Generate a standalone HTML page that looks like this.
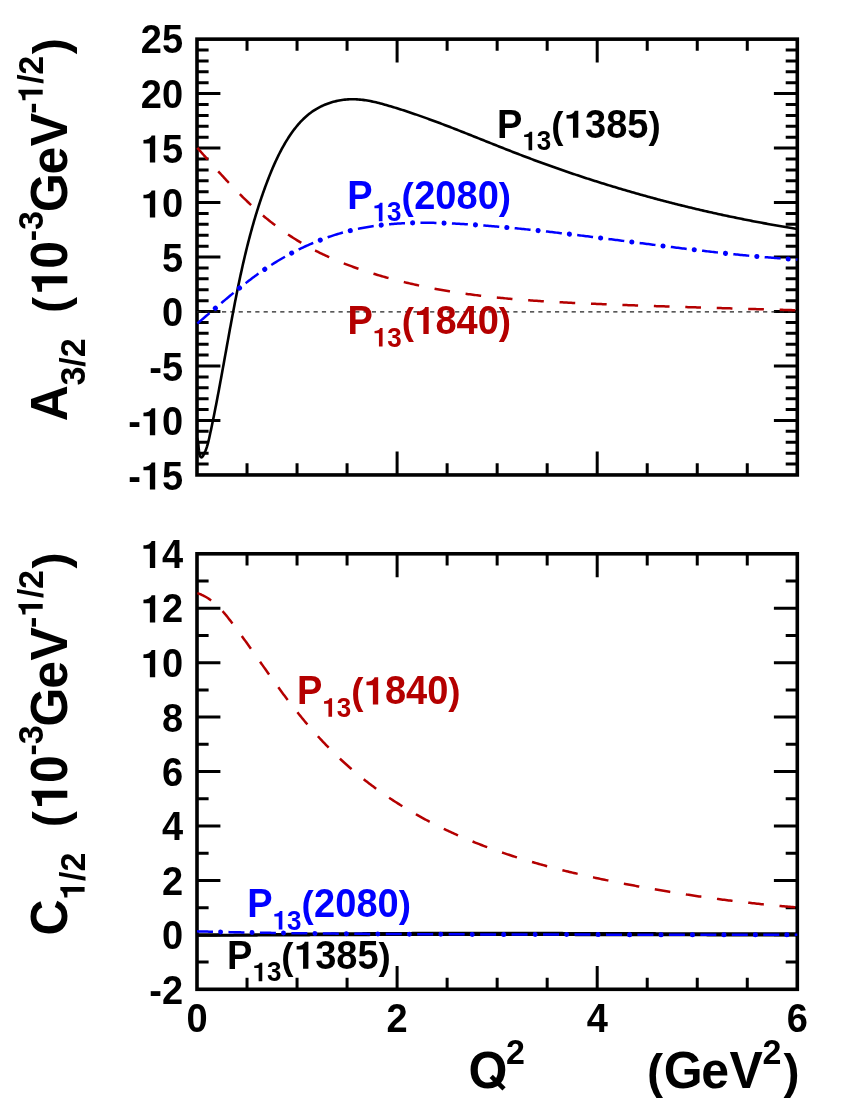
<!DOCTYPE html>
<html><head><meta charset="utf-8"><title>chart</title>
<style>html,body{margin:0;padding:0;background:#fff}svg{display:block;will-change:transform}text{font-family:"Liberation Sans",sans-serif;font-weight:bold;white-space:pre}</style>
</head><body>
<svg width="850" height="1100" viewBox="0 0 850 1100">
<rect width="850" height="1100" fill="#fff"/>
<g fill="none" stroke="#000" stroke-width="3.0">
<path d="M247.03 474.95 v-11.6 M247.03 39.15 v11.6" />
<path d="M297.05 474.95 v-11.6 M297.05 39.15 v11.6" />
<path d="M347.07 474.95 v-11.6 M347.07 39.15 v11.6" />
<path d="M397.10 474.95 v-23.4 M397.10 39.15 v23.4" />
<path d="M447.12 474.95 v-11.6 M447.12 39.15 v11.6" />
<path d="M497.15 474.95 v-11.6 M497.15 39.15 v11.6" />
<path d="M547.17 474.95 v-11.6 M547.17 39.15 v11.6" />
<path d="M597.20 474.95 v-23.4 M597.20 39.15 v23.4" />
<path d="M647.22 474.95 v-11.6 M647.22 39.15 v11.6" />
<path d="M697.25 474.95 v-11.6 M697.25 39.15 v11.6" />
<path d="M747.27 474.95 v-11.6 M747.27 39.15 v11.6" />
<path d="M197.0 93.62 h23.4 M797.3 93.62 h-23.4" />
<path d="M197.0 148.10 h23.4 M797.3 148.10 h-23.4" />
<path d="M197.0 202.58 h23.4 M797.3 202.58 h-23.4" />
<path d="M197.0 257.05 h23.4 M797.3 257.05 h-23.4" />
<path d="M197.0 311.52 h23.4 M797.3 311.52 h-23.4" />
<path d="M197.0 366.00 h23.4 M797.3 366.00 h-23.4" />
<path d="M197.0 420.47 h23.4 M797.3 420.47 h-23.4" />
<path d="M197.0 464.06 h11.6 M797.3 464.06 h-11.6" />
<path d="M197.0 453.16 h11.6 M797.3 453.16 h-11.6" />
<path d="M197.0 442.26 h11.6 M797.3 442.26 h-11.6" />
<path d="M197.0 431.37 h11.6 M797.3 431.37 h-11.6" />
<path d="M197.0 409.58 h11.6 M797.3 409.58 h-11.6" />
<path d="M197.0 398.68 h11.6 M797.3 398.68 h-11.6" />
<path d="M197.0 387.79 h11.6 M797.3 387.79 h-11.6" />
<path d="M197.0 376.89 h11.6 M797.3 376.89 h-11.6" />
<path d="M197.0 355.11 h11.6 M797.3 355.11 h-11.6" />
<path d="M197.0 344.21 h11.6 M797.3 344.21 h-11.6" />
<path d="M197.0 333.31 h11.6 M797.3 333.31 h-11.6" />
<path d="M197.0 322.42 h11.6 M797.3 322.42 h-11.6" />
<path d="M197.0 300.63 h11.6 M797.3 300.63 h-11.6" />
<path d="M197.0 289.73 h11.6 M797.3 289.73 h-11.6" />
<path d="M197.0 278.84 h11.6 M797.3 278.84 h-11.6" />
<path d="M197.0 267.94 h11.6 M797.3 267.94 h-11.6" />
<path d="M197.0 246.16 h11.6 M797.3 246.16 h-11.6" />
<path d="M197.0 235.26 h11.6 M797.3 235.26 h-11.6" />
<path d="M197.0 224.37 h11.6 M797.3 224.37 h-11.6" />
<path d="M197.0 213.47 h11.6 M797.3 213.47 h-11.6" />
<path d="M197.0 191.68 h11.6 M797.3 191.68 h-11.6" />
<path d="M197.0 180.79 h11.6 M797.3 180.79 h-11.6" />
<path d="M197.0 169.89 h11.6 M797.3 169.89 h-11.6" />
<path d="M197.0 159.00 h11.6 M797.3 159.00 h-11.6" />
<path d="M197.0 137.21 h11.6 M797.3 137.21 h-11.6" />
<path d="M197.0 126.31 h11.6 M797.3 126.31 h-11.6" />
<path d="M197.0 115.41 h11.6 M797.3 115.41 h-11.6" />
<path d="M197.0 104.52 h11.6 M797.3 104.52 h-11.6" />
<path d="M197.0 82.73 h11.6 M797.3 82.73 h-11.6" />
<path d="M197.0 71.84 h11.6 M797.3 71.84 h-11.6" />
<path d="M197.0 60.94 h11.6 M797.3 60.94 h-11.6" />
<path d="M197.0 50.05 h11.6 M797.3 50.05 h-11.6" />
<path d="M247.03 989.3 v-11.6 M247.03 553.8 v11.6" />
<path d="M297.05 989.3 v-11.6 M297.05 553.8 v11.6" />
<path d="M347.07 989.3 v-11.6 M347.07 553.8 v11.6" />
<path d="M397.10 989.3 v-23.4 M397.10 553.8 v23.4" />
<path d="M447.12 989.3 v-11.6 M447.12 553.8 v11.6" />
<path d="M497.15 989.3 v-11.6 M497.15 553.8 v11.6" />
<path d="M547.17 989.3 v-11.6 M547.17 553.8 v11.6" />
<path d="M597.20 989.3 v-23.4 M597.20 553.8 v23.4" />
<path d="M647.22 989.3 v-11.6 M647.22 553.8 v11.6" />
<path d="M697.25 989.3 v-11.6 M697.25 553.8 v11.6" />
<path d="M747.27 989.3 v-11.6 M747.27 553.8 v11.6" />
<path d="M197.0 608.24 h23.4 M797.3 608.24 h-23.4" />
<path d="M197.0 662.67 h23.4 M797.3 662.67 h-23.4" />
<path d="M197.0 717.11 h23.4 M797.3 717.11 h-23.4" />
<path d="M197.0 771.55 h23.4 M797.3 771.55 h-23.4" />
<path d="M197.0 825.99 h23.4 M797.3 825.99 h-23.4" />
<path d="M197.0 880.42 h23.4 M797.3 880.42 h-23.4" />
<path d="M197.0 934.86 h23.4 M797.3 934.86 h-23.4" />
<path d="M197.0 581.02 h11.6 M797.3 581.02 h-11.6" />
<path d="M197.0 635.46 h11.6 M797.3 635.46 h-11.6" />
<path d="M197.0 689.89 h11.6 M797.3 689.89 h-11.6" />
<path d="M197.0 744.33 h11.6 M797.3 744.33 h-11.6" />
<path d="M197.0 798.77 h11.6 M797.3 798.77 h-11.6" />
<path d="M197.0 853.21 h11.6 M797.3 853.21 h-11.6" />
<path d="M197.0 907.64 h11.6 M797.3 907.64 h-11.6" />
<path d="M197.0 962.08 h11.6 M797.3 962.08 h-11.6" />
</g>
<g fill="none" stroke="#000" stroke-width="3.6">
<rect x="197.0" y="39.15" width="600.3" height="435.8"/>
<rect x="197.0" y="553.8" width="600.3" height="435.5"/>
</g>
<g fill="none" stroke-linejoin="round">
<path d="M197.0 311.82 H797.3" stroke="#222" stroke-width="1.3" stroke-dasharray="4.2 4.125"/>
<path d="M197.00 438.05 L197.43 439.20 L197.77 440.51 L198.03 441.95 L198.24 443.50 L198.41 445.13 L198.57 446.81 L198.73 448.51 L198.92 450.22 L199.15 451.91 L199.44 453.55 L199.81 455.06 L200.26 456.32 L200.79 457.16 L201.39 457.46 L202.06 457.10 L202.78 456.22 L203.51 454.99 L204.22 453.58 L204.88 452.13 L205.49 450.67 L206.05 449.21 L206.57 447.75 L207.05 446.29 L207.49 444.83 L207.91 443.36 L208.29 441.90 L208.66 440.43 L209.01 438.96 L209.34 437.49 L209.66 436.02 L209.98 434.55 L210.30 433.08 L210.61 431.60 L210.93 430.13 L211.24 428.66 L211.55 427.19 L211.86 425.72 L212.16 424.25 L212.47 422.78 L212.77 421.31 L213.07 419.84 L213.37 418.37 L213.67 416.90 L213.96 415.43 L214.26 413.96 L214.55 412.49 L214.84 411.02 L215.13 409.54 L215.42 408.07 L215.71 406.60 L216.00 405.13 L216.28 403.66 L216.57 402.19 L216.85 400.72 L217.13 399.25 L217.41 397.78 L217.69 396.31 L217.97 394.84 L218.25 393.37 L218.53 391.89 L218.80 390.42 L219.08 388.95 L219.35 387.48 L219.62 386.01 L219.90 384.54 L220.17 383.07 L220.44 381.60 L220.71 380.13 L220.98 378.65 L221.25 377.18 L221.52 375.71 L221.79 374.24 L222.06 372.77 L222.32 371.30 L222.59 369.83 L222.86 368.36 L223.12 366.88 L223.39 365.41 L223.66 363.94 L223.92 362.47 L224.19 361.00 L224.45 359.53 L224.72 358.05 L224.98 356.58 L225.25 355.11 L225.51 353.64 L225.78 352.17 L226.04 350.69 L226.31 349.22 L226.57 347.75 L226.84 346.28 L227.10 344.80 L227.37 343.33 L227.63 341.86 L227.90 340.39 L228.17 338.91 L228.43 337.44 L228.70 335.97 L228.97 334.50 L229.24 333.02 L229.51 331.55 L229.77 330.08 L230.04 328.60 L230.31 327.13 L230.59 325.66 L230.86 324.18 L231.13 322.71 L231.40 321.24 L231.68 319.76 L231.95 318.29 L232.23 316.82 L232.51 315.34 L232.78 313.87 L233.06 312.39 L233.34 310.92 L233.62 309.45 L233.90 307.97 L234.19 306.50 L234.47 305.02 L234.75 303.55 L235.04 302.07 L235.33 300.60 L235.62 299.13 L235.91 297.65 L236.20 296.18 L236.49 294.70 L236.79 293.23 L237.08 291.76 L237.38 290.28 L237.68 288.81 L237.98 287.34 L238.28 285.86 L238.59 284.39 L238.90 282.92 L239.20 281.45 L239.51 279.98 L239.82 278.51 L240.14 277.04 L240.45 275.57 L240.77 274.10 L241.09 272.63 L241.41 271.16 L241.74 269.69 L242.06 268.22 L242.39 266.76 L242.72 265.29 L243.05 263.82 L243.39 262.36 L243.73 260.89 L244.07 259.43 L244.41 257.97 L244.75 256.50 L245.10 255.04 L245.45 253.58 L245.80 252.12 L246.16 250.66 L246.51 249.20 L246.87 247.74 L247.24 246.29 L247.60 244.83 L247.97 243.38 L248.34 241.92 L248.72 240.47 L249.10 239.02 L249.48 237.56 L249.86 236.11 L250.25 234.66 L250.64 233.22 L251.03 231.77 L251.43 230.32 L251.83 228.88 L252.23 227.43 L252.63 225.99 L253.04 224.55 L253.46 223.11 L253.87 221.67 L254.29 220.23 L254.71 218.79 L255.14 217.36 L255.57 215.93 L256.01 214.49 L256.44 213.06 L256.88 211.63 L257.33 210.20 L257.78 208.78 L258.23 207.35 L258.69 205.93 L259.15 204.50 L259.61 203.08 L260.08 201.66 L260.55 200.24 L261.03 198.83 L261.51 197.41 L262.00 196.00 L262.49 194.59 L262.98 193.18 L263.48 191.77 L263.98 190.36 L264.48 188.96 L265.00 187.55 L265.51 186.15 L266.03 184.75 L266.55 183.35 L267.08 181.96 L267.62 180.56 L268.15 179.17 L268.70 177.78 L269.24 176.39 L269.80 175.01 L270.35 173.62 L270.92 172.24 L271.49 170.86 L272.06 169.48 L272.64 168.11 L273.23 166.74 L273.83 165.37 L274.43 164.00 L275.04 162.64 L275.66 161.28 L276.29 159.93 L276.93 158.58 L277.57 157.23 L278.23 155.89 L278.89 154.55 L279.56 153.21 L280.25 151.88 L280.94 150.55 L281.65 149.23 L282.36 147.91 L283.09 146.60 L283.83 145.29 L284.58 143.99 L285.34 142.70 L286.12 141.40 L286.90 140.12 L287.71 138.84 L288.52 137.56 L289.35 136.30 L290.19 135.04 L291.05 133.79 L291.92 132.55 L292.81 131.32 L293.71 130.10 L294.62 128.89 L295.56 127.70 L296.51 126.52 L297.47 125.36 L298.45 124.21 L299.45 123.08 L300.47 121.97 L301.50 120.88 L302.55 119.81 L303.62 118.76 L304.71 117.72 L305.82 116.72 L306.95 115.73 L308.09 114.77 L309.26 113.84 L310.44 112.93 L311.65 112.05 L312.88 111.19 L314.12 110.37 L315.39 109.57 L316.67 108.80 L317.98 108.06 L319.30 107.35 L320.63 106.67 L321.99 106.02 L323.35 105.40 L324.73 104.81 L326.13 104.24 L327.53 103.71 L328.95 103.20 L330.38 102.73 L331.82 102.28 L333.26 101.87 L334.72 101.48 L336.18 101.13 L337.65 100.80 L339.12 100.51 L340.60 100.24 L342.08 100.01 L343.57 99.81 L345.05 99.64 L346.54 99.49 L348.03 99.38 L349.52 99.30 L351.01 99.26 L352.50 99.24 L353.98 99.25 L355.47 99.29 L356.95 99.36 L358.43 99.46 L359.91 99.58 L361.39 99.73 L362.86 99.90 L364.34 100.09 L365.81 100.31 L367.28 100.55 L368.75 100.80 L370.22 101.08 L371.68 101.37 L373.15 101.68 L374.61 102.00 L376.07 102.34 L377.53 102.70 L378.99 103.06 L380.44 103.44 L381.90 103.82 L383.35 104.22 L384.80 104.63 L386.25 105.04 L387.70 105.46 L389.15 105.88 L390.59 106.31 L392.03 106.75 L393.48 107.18 L394.92 107.62 L396.35 108.07 L397.79 108.51 L399.23 108.97 L400.66 109.42 L402.09 109.88 L403.52 110.34 L404.95 110.80 L406.38 111.27 L407.81 111.74 L409.24 112.22 L410.66 112.70 L412.08 113.18 L413.50 113.66 L414.93 114.15 L416.35 114.64 L417.76 115.13 L419.18 115.62 L420.60 116.12 L422.01 116.62 L423.43 117.12 L424.84 117.63 L426.25 118.13 L427.66 118.64 L429.07 119.16 L430.48 119.67 L431.89 120.19 L433.30 120.71 L434.70 121.23 L436.11 121.75 L437.51 122.27 L438.91 122.80 L440.32 123.33 L441.72 123.86 L443.12 124.39 L444.52 124.93 L445.92 125.46 L447.32 126.00 L448.72 126.54 L450.12 127.08 L451.52 127.62 L452.91 128.16 L454.31 128.70 L455.71 129.25 L457.10 129.80 L458.50 130.34 L459.89 130.89 L461.28 131.44 L462.68 131.99 L464.07 132.54 L465.46 133.09 L466.86 133.65 L468.25 134.20 L469.64 134.75 L471.03 135.31 L472.43 135.86 L473.82 136.42 L475.21 136.98 L476.60 137.53 L477.99 138.09 L479.38 138.64 L480.77 139.20 L482.16 139.76 L483.55 140.32 L484.94 140.87 L486.33 141.43 L487.73 141.99 L489.12 142.54 L490.51 143.10 L491.90 143.65 L493.29 144.21 L494.68 144.77 L496.07 145.32 L497.46 145.87 L498.86 146.43 L500.25 146.98 L501.64 147.53 L503.03 148.08 L504.43 148.64 L505.82 149.19 L507.21 149.73 L508.61 150.28 L510.00 150.83 L511.40 151.37 L512.79 151.92 L514.19 152.46 L515.59 153.00 L516.98 153.54 L518.38 154.08 L519.78 154.62 L521.18 155.16 L522.58 155.69 L523.98 156.22 L525.38 156.76 L526.78 157.29 L528.18 157.81 L529.59 158.34 L530.99 158.87 L532.39 159.39 L533.80 159.91 L535.20 160.43 L536.61 160.95 L538.01 161.47 L539.42 161.98 L540.83 162.50 L542.24 163.01 L543.65 163.52 L545.06 164.03 L546.47 164.54 L547.88 165.05 L549.29 165.55 L550.70 166.06 L552.11 166.56 L553.52 167.06 L554.94 167.56 L556.35 168.06 L557.77 168.55 L559.18 169.05 L560.60 169.54 L562.01 170.03 L563.43 170.52 L564.85 171.01 L566.26 171.49 L567.68 171.98 L569.10 172.46 L570.52 172.94 L571.94 173.43 L573.36 173.90 L574.78 174.38 L576.21 174.86 L577.63 175.33 L579.05 175.80 L580.47 176.27 L581.90 176.74 L583.32 177.21 L584.75 177.68 L586.17 178.14 L587.60 178.61 L589.03 179.07 L590.45 179.53 L591.88 179.99 L593.31 180.44 L594.74 180.90 L596.17 181.35 L597.60 181.81 L599.03 182.26 L600.46 182.71 L601.89 183.15 L603.32 183.60 L604.75 184.04 L606.18 184.49 L607.62 184.93 L609.05 185.37 L610.48 185.81 L611.92 186.24 L613.35 186.68 L614.79 187.11 L616.23 187.54 L617.66 187.98 L619.10 188.40 L620.54 188.83 L621.97 189.26 L623.41 189.68 L624.85 190.10 L626.29 190.53 L627.73 190.95 L629.17 191.36 L630.61 191.78 L632.05 192.19 L633.49 192.61 L634.94 193.02 L636.38 193.43 L637.82 193.84 L639.27 194.25 L640.71 194.65 L642.15 195.06 L643.60 195.46 L645.04 195.86 L646.49 196.26 L647.93 196.66 L649.38 197.05 L650.83 197.45 L652.28 197.84 L653.72 198.23 L655.17 198.62 L656.62 199.01 L658.07 199.40 L659.52 199.78 L660.97 200.16 L662.42 200.55 L663.87 200.93 L665.32 201.31 L666.77 201.68 L668.22 202.06 L669.68 202.43 L671.13 202.81 L672.58 203.18 L674.03 203.55 L675.49 203.91 L676.94 204.28 L678.40 204.65 L679.85 205.01 L681.31 205.37 L682.76 205.73 L684.22 206.09 L685.68 206.45 L687.13 206.80 L688.59 207.15 L690.05 207.51 L691.51 207.86 L692.96 208.21 L694.42 208.55 L695.88 208.90 L697.34 209.24 L698.80 209.59 L700.26 209.93 L701.72 210.27 L703.18 210.61 L704.64 210.94 L706.11 211.28 L707.57 211.61 L709.03 211.94 L710.49 212.27 L711.95 212.60 L713.42 212.93 L714.88 213.25 L716.35 213.58 L717.81 213.90 L719.27 214.22 L720.74 214.54 L722.20 214.86 L723.67 215.17 L725.14 215.49 L726.60 215.80 L728.07 216.11 L729.53 216.42 L731.00 216.73 L732.47 217.03 L733.94 217.34 L735.40 217.64 L736.87 217.94 L738.34 218.24 L739.81 218.54 L741.28 218.84 L742.75 219.13 L744.22 219.43 L745.69 219.72 L747.16 220.01 L748.63 220.30 L750.10 220.59 L751.57 220.87 L753.04 221.16 L754.51 221.44 L755.99 221.72 L757.46 222.00 L758.93 222.28 L760.40 222.55 L761.88 222.83 L763.35 223.10 L764.82 223.37 L766.30 223.64 L767.77 223.91 L769.25 224.18 L770.72 224.44 L772.20 224.71 L773.67 224.97 L775.15 225.23 L776.62 225.49 L778.10 225.75 L779.57 226.00 L781.05 226.26 L782.53 226.51 L784.00 226.76 L785.48 227.01 L786.96 227.26 L788.43 227.50 L789.91 227.75 L791.39 227.99 L792.87 228.23 L794.35 228.47 L795.82 228.71 L797.30 228.95" stroke="#000" stroke-width="2.6"/>
<path d="M197.27 147.81 L198.26 148.91 L199.24 150.02 L200.23 151.13 L201.21 152.24 L202.20 153.35 L203.19 154.46 L204.17 155.57 L205.16 156.68 L206.15 157.80 L207.14 158.91 L208.13 160.03 L209.12 161.14 L210.12 162.26 L211.11 163.38 L212.11 164.49 L213.11 165.61 L214.11 166.72 L215.11 167.84 L216.11 168.95 L217.11 170.07 L218.12 171.18 L219.13 172.29 L220.14 173.40 L221.15 174.51 L222.16 175.62 L223.18 176.72 L224.20 177.83 L225.22 178.93 L226.24 180.03 L227.27 181.13 L228.30 182.23 L229.33 183.33 L230.36 184.42 L231.40 185.51 L232.44 186.60 L233.48 187.68 L234.52 188.76 L235.57 189.84 L236.62 190.92 L237.68 191.99 L238.73 193.06 L239.80 194.13 L240.86 195.19 L241.93 196.25 L243.00 197.30 L244.07 198.36 L245.15 199.40 L246.24 200.45 L247.32 201.48 L248.41 202.52 L249.51 203.55 L250.61 204.57 L251.71 205.59 L252.82 206.60 L253.93 207.61 L255.04 208.62 L256.16 209.62 L257.29 210.61 L258.41 211.60 L259.55 212.59 L260.68 213.56 L261.82 214.54 L262.97 215.50 L264.12 216.47 L265.27 217.42 L266.43 218.37 L267.59 219.32 L268.76 220.26 L269.93 221.19 L271.10 222.12 L272.28 223.04 L273.47 223.95 L274.65 224.86 L275.85 225.76 L277.04 226.66 L278.24 227.55 L279.45 228.43 L280.66 229.31 L281.87 230.18 L283.09 231.04 L284.31 231.90 L285.54 232.75 L286.77 233.60 L288.00 234.43 L289.24 235.26 L290.48 236.09 L291.73 236.90 L292.98 237.71 L294.24 238.51 L295.50 239.31 L296.77 240.09 L298.04 240.87 L299.31 241.65 L300.59 242.41 L301.87 243.17 L303.16 243.92 L304.45 244.66 L305.75 245.40 L307.05 246.13 L308.35 246.85 L309.66 247.56 L310.97 248.27 L312.29 248.97 L313.61 249.66 L314.93 250.35 L316.26 251.02 L317.59 251.70 L318.93 252.36 L320.26 253.02 L321.61 253.67 L322.95 254.32 L324.30 254.96 L325.65 255.59 L327.01 256.22 L328.37 256.84 L329.73 257.45 L331.10 258.06 L332.46 258.66 L333.84 259.25 L335.21 259.84 L336.59 260.42 L337.97 261.00 L339.35 261.57 L340.74 262.14 L342.13 262.69 L343.52 263.25 L344.91 263.80 L346.31 264.34 L347.71 264.87 L349.11 265.40 L350.52 265.93 L351.92 266.45 L353.33 266.96 L354.74 267.47 L356.16 267.98 L357.57 268.48 L358.99 268.97 L360.41 269.46 L361.83 269.94 L363.25 270.42 L364.68 270.89 L366.11 271.36 L367.54 271.83 L368.97 272.28 L370.40 272.74 L371.83 273.19 L373.27 273.63 L374.71 274.07 L376.15 274.51 L377.59 274.94 L379.03 275.37 L380.47 275.79 L381.92 276.21 L383.36 276.62 L384.81 277.03 L386.26 277.44 L387.70 277.84 L389.15 278.24 L390.61 278.63 L392.06 279.02 L393.51 279.41 L394.96 279.79 L396.42 280.17 L397.87 280.54 L399.33 280.91 L400.79 281.28 L402.24 281.64 L403.70 282.00 L405.16 282.36 L406.62 282.71 L408.08 283.05 L409.54 283.40 L411.01 283.74 L412.47 284.07 L413.93 284.40 L415.40 284.73 L416.86 285.05 L418.33 285.37 L419.80 285.69 L421.26 286.00 L422.73 286.31 L424.20 286.62 L425.67 286.92 L427.13 287.21 L428.60 287.51 L430.07 287.80 L431.54 288.08 L433.02 288.37 L434.49 288.65 L435.96 288.92 L437.43 289.19 L438.90 289.46 L440.38 289.73 L441.85 289.99 L443.32 290.25 L444.80 290.50 L446.27 290.75 L447.75 291.00 L449.22 291.25 L450.70 291.49 L452.18 291.72 L453.65 291.96 L455.13 292.19 L456.61 292.42 L458.09 292.65 L459.57 292.87 L461.05 293.09 L462.53 293.30 L464.00 293.52 L465.49 293.73 L466.97 293.93 L468.45 294.14 L469.93 294.34 L471.41 294.54 L472.89 294.73 L474.37 294.93 L475.86 295.12 L477.34 295.30 L478.82 295.49 L480.31 295.67 L481.79 295.85 L483.27 296.03 L484.76 296.20 L486.24 296.37 L487.73 296.54 L489.22 296.71 L490.70 296.87 L492.19 297.03 L493.67 297.19 L495.16 297.35 L496.65 297.50 L498.14 297.65 L499.62 297.80 L501.11 297.95 L502.60 298.09 L504.09 298.24 L505.58 298.38 L507.07 298.51 L508.56 298.65 L510.04 298.78 L511.53 298.92 L513.02 299.05 L514.52 299.17 L516.01 299.30 L517.50 299.42 L518.99 299.55 L520.48 299.67 L521.97 299.78 L523.46 299.90 L524.95 300.01 L526.45 300.13 L527.94 300.24 L529.43 300.35 L530.92 300.45 L532.42 300.56 L533.91 300.66 L535.40 300.77 L536.90 300.87 L538.39 300.97 L539.88 301.06 L541.38 301.16 L542.87 301.25 L544.36 301.35 L545.86 301.44 L547.35 301.53 L548.85 301.62 L550.34 301.71 L551.84 301.79 L553.33 301.88 L554.83 301.96 L556.32 302.05 L557.82 302.13 L559.31 302.21 L560.81 302.29 L562.31 302.37 L563.80 302.44 L565.30 302.52 L566.79 302.59 L568.29 302.67 L569.79 302.74 L571.28 302.81 L572.78 302.89 L574.27 302.96 L575.77 303.03 L577.27 303.09 L578.76 303.16 L580.26 303.23 L581.76 303.30 L583.25 303.36 L584.75 303.43 L586.25 303.49 L587.74 303.56 L589.24 303.62 L590.74 303.68 L592.24 303.75 L593.73 303.81 L595.23 303.87 L596.73 303.93 L598.22 303.99 L599.72 304.05 L601.22 304.11 L602.71 304.17 L604.21 304.23 L605.71 304.29 L607.21 304.35 L608.70 304.41 L610.20 304.46 L611.70 304.52 L613.19 304.58 L614.69 304.64 L616.19 304.69 L617.68 304.75 L619.18 304.81 L620.68 304.86 L622.17 304.92 L623.67 304.97 L625.17 305.03 L626.67 305.08 L628.16 305.14 L629.66 305.19 L631.16 305.25 L632.65 305.30 L634.15 305.35 L635.65 305.41 L637.14 305.46 L638.64 305.51 L640.14 305.56 L641.63 305.62 L643.13 305.67 L644.63 305.72 L646.12 305.77 L647.62 305.82 L649.12 305.87 L650.61 305.93 L652.11 305.98 L653.61 306.03 L655.11 306.08 L656.60 306.13 L658.10 306.18 L659.60 306.23 L661.09 306.27 L662.59 306.32 L664.09 306.37 L665.58 306.42 L667.08 306.47 L668.58 306.52 L670.07 306.57 L671.57 306.61 L673.07 306.66 L674.56 306.71 L676.06 306.76 L677.56 306.80 L679.05 306.85 L680.55 306.90 L682.05 306.94 L683.54 306.99 L685.04 307.04 L686.54 307.08 L688.03 307.13 L689.53 307.17 L691.03 307.22 L692.52 307.27 L694.02 307.31 L695.52 307.36 L697.01 307.40 L698.51 307.45 L700.01 307.49 L701.51 307.54 L703.00 307.58 L704.50 307.62 L706.00 307.67 L707.49 307.71 L708.99 307.76 L710.49 307.80 L711.98 307.85 L713.48 307.89 L714.98 307.93 L716.47 307.98 L717.97 308.02 L719.47 308.06 L720.96 308.11 L722.46 308.15 L723.96 308.19 L725.45 308.24 L726.95 308.28 L728.45 308.32 L729.94 308.37 L731.44 308.41 L732.94 308.45 L734.43 308.49 L735.93 308.54 L737.43 308.58 L738.92 308.62 L740.42 308.66 L741.92 308.71 L743.41 308.75 L744.91 308.79 L746.41 308.83 L747.90 308.88 L749.40 308.92 L750.90 308.96 L752.39 309.00 L753.89 309.04 L755.39 309.09 L756.88 309.13 L758.38 309.17 L759.88 309.21 L761.37 309.26 L762.87 309.30 L764.37 309.34 L765.86 309.38 L767.36 309.42 L768.86 309.47 L770.35 309.51 L771.85 309.55 L773.35 309.59 L774.84 309.63 L776.34 309.68 L777.84 309.72 L779.33 309.76 L780.83 309.80 L782.33 309.85 L783.83 309.89 L785.32 309.93 L786.82 309.97 L788.32 310.02 L789.81 310.06 L791.31 310.10 L792.81 310.14 L794.30 310.19 L795.80 310.23 L797.30 310.27" stroke="#b40000" stroke-width="2.5" stroke-dasharray="15.7 15.76"/>
<path d="M197.33 323.46 L198.47 322.52 L199.60 321.57 L200.73 320.62 L201.87 319.66 L203.00 318.71 L204.13 317.75 L205.26 316.79 L206.40 315.83 L207.53 314.87 L208.66 313.90 L209.79 312.94 L210.92 311.97 L212.06 311.01 L213.19 310.04 L214.32 309.07 L215.46 308.10 L216.59 307.13 L217.73 306.17 L218.87 305.20 L220.01 304.23 L221.15 303.26 L222.29 302.29 L223.43 301.33 L224.57 300.36 L225.72 299.40 L226.86 298.43 L228.01 297.47 L229.16 296.51 L230.31 295.55 L231.47 294.59 L232.62 293.64 L233.78 292.69 L234.94 291.73 L236.10 290.79 L237.27 289.84 L238.43 288.90 L239.60 287.96 L240.77 287.02 L241.95 286.08 L243.13 285.15 L244.31 284.22 L245.49 283.30 L246.68 282.38 L247.87 281.46 L249.06 280.55 L250.26 279.64 L251.46 278.74 L252.66 277.84 L253.87 276.94 L255.08 276.06 L256.30 275.17 L257.52 274.29 L258.74 273.42 L259.97 272.55 L261.20 271.68 L262.44 270.83 L263.68 269.97 L264.92 269.13 L266.17 268.29 L267.42 267.46 L268.68 266.63 L269.94 265.81 L271.21 265.00 L272.48 264.19 L273.76 263.39 L275.04 262.59 L276.32 261.81 L277.61 261.02 L278.90 260.25 L280.20 259.48 L281.50 258.72 L282.81 257.97 L284.12 257.22 L285.43 256.48 L286.74 255.75 L288.07 255.02 L289.39 254.31 L290.72 253.59 L292.05 252.89 L293.38 252.19 L294.72 251.50 L296.07 250.82 L297.41 250.15 L298.76 249.48 L300.11 248.82 L301.47 248.17 L302.83 247.52 L304.19 246.89 L305.56 246.26 L306.93 245.64 L308.30 245.02 L309.67 244.42 L311.05 243.82 L312.43 243.23 L313.82 242.65 L315.21 242.08 L316.60 241.51 L317.99 240.95 L319.38 240.41 L320.78 239.87 L322.18 239.33 L323.59 238.81 L324.99 238.29 L326.40 237.79 L327.81 237.29 L329.23 236.80 L330.64 236.32 L332.06 235.84 L333.48 235.38 L334.91 234.93 L336.33 234.48 L337.76 234.04 L339.19 233.61 L340.62 233.19 L342.05 232.78 L343.49 232.38 L344.93 231.99 L346.37 231.61 L347.81 231.23 L349.25 230.87 L350.70 230.51 L352.14 230.17 L353.59 229.83 L355.04 229.50 L356.49 229.19 L357.95 228.88 L359.40 228.58 L360.86 228.28 L362.32 228.00 L363.78 227.73 L365.24 227.46 L366.70 227.20 L368.16 226.96 L369.63 226.71 L371.10 226.48 L372.56 226.26 L374.03 226.04 L375.50 225.83 L376.98 225.63 L378.45 225.44 L379.93 225.25 L381.40 225.08 L382.88 224.91 L384.36 224.74 L385.84 224.59 L387.32 224.44 L388.80 224.30 L390.28 224.16 L391.76 224.03 L393.25 223.91 L394.73 223.80 L396.22 223.69 L397.71 223.59 L399.20 223.49 L400.69 223.40 L402.18 223.32 L403.67 223.24 L405.16 223.17 L406.65 223.11 L408.15 223.05 L409.64 223.00 L411.13 222.95 L412.63 222.91 L414.13 222.87 L415.62 222.84 L417.12 222.81 L418.62 222.79 L420.12 222.78 L421.62 222.77 L423.12 222.76 L424.62 222.76 L426.12 222.76 L427.62 222.77 L429.12 222.78 L430.62 222.80 L432.12 222.82 L433.63 222.85 L435.13 222.88 L436.63 222.91 L438.13 222.95 L439.64 222.99 L441.14 223.04 L442.65 223.09 L444.15 223.14 L445.65 223.20 L447.16 223.26 L448.66 223.32 L450.17 223.39 L451.67 223.45 L453.18 223.53 L454.68 223.60 L456.19 223.68 L457.69 223.76 L459.19 223.84 L460.70 223.93 L462.20 224.02 L463.71 224.11 L465.21 224.20 L466.71 224.30 L468.22 224.39 L469.72 224.49 L471.22 224.59 L472.72 224.70 L474.23 224.80 L475.73 224.91 L477.23 225.02 L478.73 225.13 L480.23 225.24 L481.73 225.35 L483.23 225.46 L484.73 225.58 L486.23 225.70 L487.73 225.81 L489.23 225.93 L490.72 226.06 L492.22 226.18 L493.72 226.30 L495.22 226.43 L496.71 226.56 L498.21 226.69 L499.71 226.82 L501.20 226.95 L502.70 227.08 L504.19 227.21 L505.69 227.35 L507.18 227.49 L508.68 227.62 L510.17 227.76 L511.67 227.90 L513.16 228.04 L514.65 228.19 L516.15 228.33 L517.64 228.48 L519.13 228.62 L520.62 228.77 L522.11 228.92 L523.61 229.07 L525.10 229.22 L526.59 229.37 L528.08 229.53 L529.57 229.68 L531.06 229.84 L532.55 229.99 L534.04 230.15 L535.53 230.31 L537.02 230.47 L538.51 230.63 L540.00 230.79 L541.49 230.95 L542.98 231.11 L544.47 231.28 L545.95 231.44 L547.44 231.61 L548.93 231.78 L550.42 231.94 L551.91 232.11 L553.39 232.28 L554.88 232.45 L556.37 232.62 L557.85 232.79 L559.34 232.97 L560.83 233.14 L562.31 233.31 L563.80 233.49 L565.28 233.66 L566.77 233.84 L568.26 234.02 L569.74 234.19 L571.23 234.37 L572.71 234.55 L574.20 234.73 L575.68 234.91 L577.17 235.09 L578.65 235.27 L580.14 235.45 L581.62 235.63 L583.11 235.81 L584.59 236.00 L586.07 236.18 L587.56 236.36 L589.04 236.55 L590.53 236.73 L592.01 236.92 L593.49 237.10 L594.98 237.29 L596.46 237.48 L597.94 237.66 L599.43 237.85 L600.91 238.04 L602.39 238.22 L603.88 238.41 L605.36 238.60 L606.84 238.79 L608.33 238.98 L609.81 239.17 L611.29 239.36 L612.77 239.55 L614.26 239.73 L615.74 239.92 L617.22 240.11 L618.70 240.30 L620.19 240.49 L621.67 240.68 L623.15 240.87 L624.63 241.07 L626.12 241.26 L627.60 241.45 L629.08 241.64 L630.56 241.83 L632.05 242.02 L633.53 242.21 L635.01 242.40 L636.49 242.59 L637.98 242.78 L639.46 242.97 L640.94 243.16 L642.42 243.35 L643.91 243.54 L645.39 243.73 L646.87 243.92 L648.36 244.11 L649.84 244.30 L651.32 244.49 L652.80 244.68 L654.29 244.87 L655.77 245.05 L657.25 245.24 L658.74 245.43 L660.22 245.62 L661.70 245.81 L663.19 245.99 L664.67 246.18 L666.15 246.37 L667.64 246.55 L669.12 246.74 L670.60 246.92 L672.09 247.11 L673.57 247.29 L675.05 247.48 L676.54 247.66 L678.02 247.84 L679.51 248.02 L680.99 248.21 L682.48 248.39 L683.96 248.57 L685.45 248.75 L686.93 248.93 L688.42 249.11 L689.90 249.29 L691.39 249.46 L692.87 249.64 L694.36 249.82 L695.84 249.99 L697.33 250.17 L698.82 250.34 L700.30 250.52 L701.79 250.69 L703.27 250.86 L704.76 251.04 L706.25 251.21 L707.74 251.38 L709.22 251.55 L710.71 251.72 L712.20 251.88 L713.69 252.05 L715.17 252.22 L716.66 252.38 L718.15 252.55 L719.64 252.71 L721.13 252.87 L722.62 253.03 L724.11 253.19 L725.60 253.35 L727.09 253.51 L728.58 253.67 L730.07 253.83 L731.56 253.98 L733.05 254.14 L734.54 254.29 L736.03 254.44 L737.52 254.59 L739.01 254.74 L740.50 254.89 L742.00 255.04 L743.49 255.19 L744.98 255.33 L746.47 255.48 L747.97 255.62 L749.46 255.76 L750.95 255.90 L752.45 256.04 L753.94 256.18 L755.44 256.32 L756.93 256.45 L758.43 256.59 L759.92 256.72 L761.42 256.85 L762.91 256.98 L764.41 257.11 L765.91 257.24 L767.40 257.36 L768.90 257.49 L770.40 257.61 L771.90 257.73 L773.40 257.86 L774.89 257.97 L776.39 258.09 L777.89 258.21 L779.39 258.32 L780.89 258.43 L782.39 258.55 L783.89 258.66 L785.40 258.76 L786.90 258.87 L788.40 258.98 L789.90 259.08 L791.40 259.18 L792.91 259.28 L794.41 259.38 L795.91 259.48 L797.42 259.57" stroke="#0000ff" stroke-width="2.5" stroke-dasharray="16 15.46"/>
<path d="M197.33 323.46 L198.47 322.52 L199.60 321.57 L200.73 320.62 L201.87 319.66 L203.00 318.71 L204.13 317.75 L205.26 316.79 L206.40 315.83 L207.53 314.87 L208.66 313.90 L209.79 312.94 L210.92 311.97 L212.06 311.01 L213.19 310.04 L214.32 309.07 L215.46 308.10 L216.59 307.13 L217.73 306.17 L218.87 305.20 L220.01 304.23 L221.15 303.26 L222.29 302.29 L223.43 301.33 L224.57 300.36 L225.72 299.40 L226.86 298.43 L228.01 297.47 L229.16 296.51 L230.31 295.55 L231.47 294.59 L232.62 293.64 L233.78 292.69 L234.94 291.73 L236.10 290.79 L237.27 289.84 L238.43 288.90 L239.60 287.96 L240.77 287.02 L241.95 286.08 L243.13 285.15 L244.31 284.22 L245.49 283.30 L246.68 282.38 L247.87 281.46 L249.06 280.55 L250.26 279.64 L251.46 278.74 L252.66 277.84 L253.87 276.94 L255.08 276.06 L256.30 275.17 L257.52 274.29 L258.74 273.42 L259.97 272.55 L261.20 271.68 L262.44 270.83 L263.68 269.97 L264.92 269.13 L266.17 268.29 L267.42 267.46 L268.68 266.63 L269.94 265.81 L271.21 265.00 L272.48 264.19 L273.76 263.39 L275.04 262.59 L276.32 261.81 L277.61 261.02 L278.90 260.25 L280.20 259.48 L281.50 258.72 L282.81 257.97 L284.12 257.22 L285.43 256.48 L286.74 255.75 L288.07 255.02 L289.39 254.31 L290.72 253.59 L292.05 252.89 L293.38 252.19 L294.72 251.50 L296.07 250.82 L297.41 250.15 L298.76 249.48 L300.11 248.82 L301.47 248.17 L302.83 247.52 L304.19 246.89 L305.56 246.26 L306.93 245.64 L308.30 245.02 L309.67 244.42 L311.05 243.82 L312.43 243.23 L313.82 242.65 L315.21 242.08 L316.60 241.51 L317.99 240.95 L319.38 240.41 L320.78 239.87 L322.18 239.33 L323.59 238.81 L324.99 238.29 L326.40 237.79 L327.81 237.29 L329.23 236.80 L330.64 236.32 L332.06 235.84 L333.48 235.38 L334.91 234.93 L336.33 234.48 L337.76 234.04 L339.19 233.61 L340.62 233.19 L342.05 232.78 L343.49 232.38 L344.93 231.99 L346.37 231.61 L347.81 231.23 L349.25 230.87 L350.70 230.51 L352.14 230.17 L353.59 229.83 L355.04 229.50 L356.49 229.19 L357.95 228.88 L359.40 228.58 L360.86 228.28 L362.32 228.00 L363.78 227.73 L365.24 227.46 L366.70 227.20 L368.16 226.96 L369.63 226.71 L371.10 226.48 L372.56 226.26 L374.03 226.04 L375.50 225.83 L376.98 225.63 L378.45 225.44 L379.93 225.25 L381.40 225.08 L382.88 224.91 L384.36 224.74 L385.84 224.59 L387.32 224.44 L388.80 224.30 L390.28 224.16 L391.76 224.03 L393.25 223.91 L394.73 223.80 L396.22 223.69 L397.71 223.59 L399.20 223.49 L400.69 223.40 L402.18 223.32 L403.67 223.24 L405.16 223.17 L406.65 223.11 L408.15 223.05 L409.64 223.00 L411.13 222.95 L412.63 222.91 L414.13 222.87 L415.62 222.84 L417.12 222.81 L418.62 222.79 L420.12 222.78 L421.62 222.77 L423.12 222.76 L424.62 222.76 L426.12 222.76 L427.62 222.77 L429.12 222.78 L430.62 222.80 L432.12 222.82 L433.63 222.85 L435.13 222.88 L436.63 222.91 L438.13 222.95 L439.64 222.99 L441.14 223.04 L442.65 223.09 L444.15 223.14 L445.65 223.20 L447.16 223.26 L448.66 223.32 L450.17 223.39 L451.67 223.45 L453.18 223.53 L454.68 223.60 L456.19 223.68 L457.69 223.76 L459.19 223.84 L460.70 223.93 L462.20 224.02 L463.71 224.11 L465.21 224.20 L466.71 224.30 L468.22 224.39 L469.72 224.49 L471.22 224.59 L472.72 224.70 L474.23 224.80 L475.73 224.91 L477.23 225.02 L478.73 225.13 L480.23 225.24 L481.73 225.35 L483.23 225.46 L484.73 225.58 L486.23 225.70 L487.73 225.81 L489.23 225.93 L490.72 226.06 L492.22 226.18 L493.72 226.30 L495.22 226.43 L496.71 226.56 L498.21 226.69 L499.71 226.82 L501.20 226.95 L502.70 227.08 L504.19 227.21 L505.69 227.35 L507.18 227.49 L508.68 227.62 L510.17 227.76 L511.67 227.90 L513.16 228.04 L514.65 228.19 L516.15 228.33 L517.64 228.48 L519.13 228.62 L520.62 228.77 L522.11 228.92 L523.61 229.07 L525.10 229.22 L526.59 229.37 L528.08 229.53 L529.57 229.68 L531.06 229.84 L532.55 229.99 L534.04 230.15 L535.53 230.31 L537.02 230.47 L538.51 230.63 L540.00 230.79 L541.49 230.95 L542.98 231.11 L544.47 231.28 L545.95 231.44 L547.44 231.61 L548.93 231.78 L550.42 231.94 L551.91 232.11 L553.39 232.28 L554.88 232.45 L556.37 232.62 L557.85 232.79 L559.34 232.97 L560.83 233.14 L562.31 233.31 L563.80 233.49 L565.28 233.66 L566.77 233.84 L568.26 234.02 L569.74 234.19 L571.23 234.37 L572.71 234.55 L574.20 234.73 L575.68 234.91 L577.17 235.09 L578.65 235.27 L580.14 235.45 L581.62 235.63 L583.11 235.81 L584.59 236.00 L586.07 236.18 L587.56 236.36 L589.04 236.55 L590.53 236.73 L592.01 236.92 L593.49 237.10 L594.98 237.29 L596.46 237.48 L597.94 237.66 L599.43 237.85 L600.91 238.04 L602.39 238.22 L603.88 238.41 L605.36 238.60 L606.84 238.79 L608.33 238.98 L609.81 239.17 L611.29 239.36 L612.77 239.55 L614.26 239.73 L615.74 239.92 L617.22 240.11 L618.70 240.30 L620.19 240.49 L621.67 240.68 L623.15 240.87 L624.63 241.07 L626.12 241.26 L627.60 241.45 L629.08 241.64 L630.56 241.83 L632.05 242.02 L633.53 242.21 L635.01 242.40 L636.49 242.59 L637.98 242.78 L639.46 242.97 L640.94 243.16 L642.42 243.35 L643.91 243.54 L645.39 243.73 L646.87 243.92 L648.36 244.11 L649.84 244.30 L651.32 244.49 L652.80 244.68 L654.29 244.87 L655.77 245.05 L657.25 245.24 L658.74 245.43 L660.22 245.62 L661.70 245.81 L663.19 245.99 L664.67 246.18 L666.15 246.37 L667.64 246.55 L669.12 246.74 L670.60 246.92 L672.09 247.11 L673.57 247.29 L675.05 247.48 L676.54 247.66 L678.02 247.84 L679.51 248.02 L680.99 248.21 L682.48 248.39 L683.96 248.57 L685.45 248.75 L686.93 248.93 L688.42 249.11 L689.90 249.29 L691.39 249.46 L692.87 249.64 L694.36 249.82 L695.84 249.99 L697.33 250.17 L698.82 250.34 L700.30 250.52 L701.79 250.69 L703.27 250.86 L704.76 251.04 L706.25 251.21 L707.74 251.38 L709.22 251.55 L710.71 251.72 L712.20 251.88 L713.69 252.05 L715.17 252.22 L716.66 252.38 L718.15 252.55 L719.64 252.71 L721.13 252.87 L722.62 253.03 L724.11 253.19 L725.60 253.35 L727.09 253.51 L728.58 253.67 L730.07 253.83 L731.56 253.98 L733.05 254.14 L734.54 254.29 L736.03 254.44 L737.52 254.59 L739.01 254.74 L740.50 254.89 L742.00 255.04 L743.49 255.19 L744.98 255.33 L746.47 255.48 L747.97 255.62 L749.46 255.76 L750.95 255.90 L752.45 256.04 L753.94 256.18 L755.44 256.32 L756.93 256.45 L758.43 256.59 L759.92 256.72 L761.42 256.85 L762.91 256.98 L764.41 257.11 L765.91 257.24 L767.40 257.36 L768.90 257.49 L770.40 257.61 L771.90 257.73 L773.40 257.86 L774.89 257.97 L776.39 258.09 L777.89 258.21 L779.39 258.32 L780.89 258.43 L782.39 258.55 L783.89 258.66 L785.40 258.76 L786.90 258.87 L788.40 258.98 L789.90 259.08 L791.40 259.18 L792.91 259.28 L794.41 259.38 L795.91 259.48 L797.42 259.57" stroke="#0000ff" stroke-width="5.1" stroke-linecap="round" stroke-dasharray="0.01 31.45" stroke-dashoffset="-23.6"/>
</g>
<g fill="none" stroke-linejoin="round">
<path d="M197.00 935.46 L198.50 935.46 L199.99 935.47 L201.49 935.47 L202.99 935.47 L204.49 935.47 L205.98 935.47 L207.48 935.47 L208.98 935.47 L210.47 935.47 L211.97 935.47 L213.47 935.47 L214.96 935.47 L216.46 935.47 L217.96 935.47 L219.46 935.47 L220.95 935.47 L222.45 935.47 L223.95 935.47 L225.44 935.47 L226.94 935.46 L228.44 935.46 L229.93 935.46 L231.43 935.45 L232.93 935.45 L234.43 935.45 L235.92 935.45 L237.42 935.44 L238.92 935.44 L240.41 935.43 L241.91 935.43 L243.41 935.42 L244.90 935.42 L246.40 935.42 L247.90 935.41 L249.40 935.41 L250.89 935.40 L252.39 935.40 L253.89 935.39 L255.38 935.38 L256.88 935.38 L258.38 935.37 L259.87 935.37 L261.37 935.36 L262.87 935.35 L264.37 935.35 L265.86 935.34 L267.36 935.34 L268.86 935.33 L270.35 935.32 L271.85 935.32 L273.35 935.31 L274.84 935.30 L276.34 935.29 L277.84 935.29 L279.34 935.28 L280.83 935.27 L282.33 935.27 L283.83 935.26 L285.32 935.25 L286.82 935.24 L288.32 935.24 L289.81 935.23 L291.31 935.22 L292.81 935.21 L294.31 935.21 L295.80 935.20 L297.30 935.19 L298.80 935.18 L300.29 935.17 L301.79 935.17 L303.29 935.16 L304.78 935.15 L306.28 935.14 L307.78 935.14 L309.28 935.13 L310.77 935.12 L312.27 935.11 L313.77 935.11 L315.26 935.10 L316.76 935.09 L318.26 935.08 L319.75 935.08 L321.25 935.07 L322.75 935.06 L324.25 935.06 L325.74 935.05 L327.24 935.04 L328.74 935.03 L330.23 935.03 L331.73 935.02 L333.23 935.01 L334.72 935.01 L336.22 935.00 L337.72 934.99 L339.22 934.99 L340.71 934.98 L342.21 934.98 L343.71 934.97 L345.20 934.96 L346.70 934.96 L348.20 934.95 L349.69 934.95 L351.19 934.94 L352.69 934.93 L354.19 934.93 L355.68 934.92 L357.18 934.92 L358.68 934.91 L360.17 934.91 L361.67 934.90 L363.17 934.90 L364.66 934.89 L366.16 934.89 L367.66 934.88 L369.16 934.88 L370.65 934.87 L372.15 934.87 L373.65 934.86 L375.14 934.86 L376.64 934.86 L378.14 934.85 L379.63 934.85 L381.13 934.84 L382.63 934.84 L384.13 934.84 L385.62 934.83 L387.12 934.83 L388.62 934.83 L390.11 934.82 L391.61 934.82 L393.11 934.81 L394.60 934.81 L396.10 934.81 L397.60 934.80 L399.10 934.80 L400.59 934.80 L402.09 934.80 L403.59 934.79 L405.08 934.79 L406.58 934.79 L408.08 934.79 L409.57 934.78 L411.07 934.78 L412.57 934.78 L414.07 934.78 L415.56 934.77 L417.06 934.77 L418.56 934.77 L420.05 934.77 L421.55 934.77 L423.05 934.76 L424.54 934.76 L426.04 934.76 L427.54 934.76 L429.04 934.76 L430.53 934.76 L432.03 934.75 L433.53 934.75 L435.02 934.75 L436.52 934.75 L438.02 934.75 L439.51 934.75 L441.01 934.75 L442.51 934.75 L444.01 934.75 L445.50 934.74 L447.00 934.74 L448.50 934.74 L449.99 934.74 L451.49 934.74 L452.99 934.74 L454.48 934.74 L455.98 934.74 L457.48 934.74 L458.98 934.74 L460.47 934.74 L461.97 934.74 L463.47 934.74 L464.96 934.74 L466.46 934.74 L467.96 934.74 L469.45 934.74 L470.95 934.74 L472.45 934.74 L473.95 934.74 L475.44 934.74 L476.94 934.74 L478.44 934.74 L479.93 934.75 L481.43 934.75 L482.93 934.75 L484.42 934.75 L485.92 934.75 L487.42 934.75 L488.92 934.75 L490.41 934.75 L491.91 934.75 L493.41 934.75 L494.90 934.76 L496.40 934.76 L497.90 934.76 L499.39 934.76 L500.89 934.76 L502.39 934.76 L503.89 934.76 L505.38 934.77 L506.88 934.77 L508.38 934.77 L509.87 934.77 L511.37 934.77 L512.87 934.77 L514.36 934.78 L515.86 934.78 L517.36 934.78 L518.86 934.78 L520.35 934.78 L521.85 934.78 L523.35 934.79 L524.84 934.79 L526.34 934.79 L527.84 934.79 L529.34 934.80 L530.83 934.80 L532.33 934.80 L533.83 934.80 L535.32 934.80 L536.82 934.81 L538.32 934.81 L539.81 934.81 L541.31 934.81 L542.81 934.82 L544.31 934.82 L545.80 934.82 L547.30 934.82 L548.80 934.83 L550.29 934.83 L551.79 934.83 L553.29 934.83 L554.78 934.84 L556.28 934.84 L557.78 934.84 L559.28 934.85 L560.77 934.85 L562.27 934.85 L563.77 934.85 L565.26 934.86 L566.76 934.86 L568.26 934.86 L569.75 934.87 L571.25 934.87 L572.75 934.87 L574.25 934.87 L575.74 934.88 L577.24 934.88 L578.74 934.88 L580.23 934.89 L581.73 934.89 L583.23 934.89 L584.72 934.89 L586.22 934.90 L587.72 934.90 L589.22 934.90 L590.71 934.91 L592.21 934.91 L593.71 934.91 L595.20 934.92 L596.70 934.92 L598.20 934.92 L599.69 934.93 L601.19 934.93 L602.69 934.93 L604.19 934.94 L605.68 934.94 L607.18 934.94 L608.68 934.94 L610.17 934.95 L611.67 934.95 L613.17 934.95 L614.66 934.96 L616.16 934.96 L617.66 934.96 L619.16 934.97 L620.65 934.97 L622.15 934.97 L623.65 934.98 L625.14 934.98 L626.64 934.98 L628.14 934.99 L629.63 934.99 L631.13 934.99 L632.63 934.99 L634.13 935.00 L635.62 935.00 L637.12 935.00 L638.62 935.01 L640.11 935.01 L641.61 935.01 L643.11 935.02 L644.60 935.02 L646.10 935.02 L647.60 935.02 L649.10 935.03 L650.59 935.03 L652.09 935.03 L653.59 935.04 L655.08 935.04 L656.58 935.04 L658.08 935.05 L659.58 935.05 L661.07 935.05 L662.57 935.05 L664.07 935.06 L665.56 935.06 L667.06 935.06 L668.56 935.06 L670.05 935.07 L671.55 935.07 L673.05 935.07 L674.55 935.08 L676.04 935.08 L677.54 935.08 L679.04 935.08 L680.53 935.09 L682.03 935.09 L683.53 935.09 L685.02 935.09 L686.52 935.10 L688.02 935.10 L689.52 935.10 L691.01 935.10 L692.51 935.10 L694.01 935.11 L695.50 935.11 L697.00 935.11 L698.50 935.11 L699.99 935.12 L701.49 935.12 L702.99 935.12 L704.49 935.12 L705.98 935.12 L707.48 935.13 L708.98 935.13 L710.47 935.13 L711.97 935.13 L713.47 935.13 L714.96 935.13 L716.46 935.14 L717.96 935.14 L719.46 935.14 L720.95 935.14 L722.45 935.14 L723.95 935.14 L725.44 935.14 L726.94 935.15 L728.44 935.15 L729.93 935.15 L731.43 935.15 L732.93 935.15 L734.43 935.15 L735.92 935.15 L737.42 935.15 L738.92 935.16 L740.41 935.16 L741.91 935.16 L743.41 935.16 L744.90 935.16 L746.40 935.16 L747.90 935.16 L749.40 935.16 L750.89 935.16 L752.39 935.16 L753.89 935.16 L755.38 935.16 L756.88 935.16 L758.38 935.16 L759.87 935.16 L761.37 935.16 L762.87 935.16 L764.37 935.16 L765.86 935.16 L767.36 935.16 L768.86 935.16 L770.35 935.16 L771.85 935.16 L773.35 935.16 L774.84 935.16 L776.34 935.16 L777.84 935.16 L779.34 935.16 L780.83 935.16 L782.33 935.16 L783.83 935.16 L785.32 935.16 L786.82 935.15 L788.32 935.15 L789.81 935.15 L791.31 935.15 L792.81 935.15 L794.31 935.15 L795.80 935.15 L797.30 935.14" stroke="#000" stroke-width="2.5"/>
<path d="M197.00 935.33 L198.50 935.32 L199.99 935.31 L201.49 935.29 L202.99 935.28 L204.49 935.26 L205.98 935.25 L207.48 935.23 L208.98 935.21 L210.47 935.20 L211.97 935.18 L213.47 935.16 L214.96 935.14 L216.46 935.13 L217.96 935.11 L219.45 935.09 L220.95 935.07 L222.45 935.05 L223.94 935.03 L225.44 935.00 L226.94 934.98 L228.44 934.96 L229.93 934.94 L231.43 934.92 L232.93 934.90 L234.42 934.87 L235.92 934.85 L237.42 934.83 L238.91 934.81 L240.41 934.78 L241.91 934.76 L243.40 934.74 L244.90 934.71 L246.40 934.69 L247.89 934.67 L249.39 934.64 L250.89 934.62 L252.39 934.60 L253.88 934.57 L255.38 934.55 L256.88 934.53 L258.37 934.51 L259.87 934.48 L261.37 934.46 L262.86 934.44 L264.36 934.42 L265.86 934.40 L267.35 934.38 L268.85 934.35 L270.35 934.33 L271.84 934.31 L273.34 934.29 L274.84 934.27 L276.34 934.25 L277.83 934.23 L279.33 934.21 L280.83 934.19 L282.32 934.17 L283.82 934.15 L285.32 934.13 L286.81 934.11 L288.31 934.09 L289.81 934.08 L291.30 934.06 L292.80 934.04 L294.30 934.02 L295.80 934.00 L297.29 933.99 L298.79 933.97 L300.29 933.95 L301.78 933.93 L303.28 933.92 L304.78 933.90 L306.27 933.88 L307.77 933.87 L309.27 933.85 L310.77 933.83 L312.26 933.82 L313.76 933.80 L315.26 933.79 L316.75 933.77 L318.25 933.75 L319.75 933.74 L321.24 933.72 L322.74 933.71 L324.24 933.69 L325.73 933.68 L327.23 933.67 L328.73 933.65 L330.23 933.64 L331.72 933.62 L333.22 933.61 L334.72 933.60 L336.21 933.58 L337.71 933.57 L339.21 933.56 L340.70 933.54 L342.20 933.53 L343.70 933.52 L345.20 933.51 L346.69 933.49 L348.19 933.48 L349.69 933.47 L351.18 933.46 L352.68 933.45 L354.18 933.44 L355.67 933.43 L357.17 933.41 L358.67 933.40 L360.17 933.39 L361.66 933.38 L363.16 933.37 L364.66 933.36 L366.15 933.35 L367.65 933.34 L369.15 933.33 L370.64 933.32 L372.14 933.31 L373.64 933.30 L375.14 933.30 L376.63 933.29 L378.13 933.28 L379.63 933.27 L381.12 933.26 L382.62 933.25 L384.12 933.24 L385.61 933.24 L387.11 933.23 L388.61 933.22 L390.11 933.21 L391.60 933.21 L393.10 933.20 L394.60 933.19 L396.09 933.19 L397.59 933.18 L399.09 933.17 L400.58 933.17 L402.08 933.16 L403.58 933.15 L405.08 933.15 L406.57 933.14 L408.07 933.14 L409.57 933.13 L411.06 933.13 L412.56 933.12 L414.06 933.12 L415.55 933.11 L417.05 933.11 L418.55 933.10 L420.05 933.10 L421.54 933.09 L423.04 933.09 L424.54 933.08 L426.03 933.08 L427.53 933.08 L429.03 933.07 L430.52 933.07 L432.02 933.06 L433.52 933.06 L435.02 933.06 L436.51 933.05 L438.01 933.05 L439.51 933.05 L441.00 933.05 L442.50 933.04 L444.00 933.04 L445.50 933.04 L446.99 933.04 L448.49 933.03 L449.99 933.03 L451.48 933.03 L452.98 933.03 L454.48 933.03 L455.97 933.02 L457.47 933.02 L458.97 933.02 L460.47 933.02 L461.96 933.02 L463.46 933.02 L464.96 933.02 L466.45 933.02 L467.95 933.01 L469.45 933.01 L470.94 933.01 L472.44 933.01 L473.94 933.01 L475.44 933.01 L476.93 933.01 L478.43 933.01 L479.93 933.01 L481.42 933.01 L482.92 933.01 L484.42 933.01 L485.92 933.01 L487.41 933.01 L488.91 933.01 L490.41 933.01 L491.90 933.01 L493.40 933.02 L494.90 933.02 L496.39 933.02 L497.89 933.02 L499.39 933.02 L500.89 933.02 L502.38 933.02 L503.88 933.02 L505.38 933.02 L506.87 933.03 L508.37 933.03 L509.87 933.03 L511.36 933.03 L512.86 933.03 L514.36 933.03 L515.86 933.04 L517.35 933.04 L518.85 933.04 L520.35 933.04 L521.84 933.04 L523.34 933.05 L524.84 933.05 L526.34 933.05 L527.83 933.05 L529.33 933.06 L530.83 933.06 L532.32 933.06 L533.82 933.06 L535.32 933.07 L536.81 933.07 L538.31 933.07 L539.81 933.07 L541.31 933.08 L542.80 933.08 L544.30 933.08 L545.80 933.09 L547.29 933.09 L548.79 933.09 L550.29 933.10 L551.78 933.10 L553.28 933.10 L554.78 933.11 L556.28 933.11 L557.77 933.11 L559.27 933.12 L560.77 933.12 L562.26 933.12 L563.76 933.13 L565.26 933.13 L566.76 933.13 L568.25 933.14 L569.75 933.14 L571.25 933.14 L572.74 933.15 L574.24 933.15 L575.74 933.16 L577.23 933.16 L578.73 933.16 L580.23 933.17 L581.73 933.17 L583.22 933.18 L584.72 933.18 L586.22 933.18 L587.71 933.19 L589.21 933.19 L590.71 933.20 L592.21 933.20 L593.70 933.20 L595.20 933.21 L596.70 933.21 L598.19 933.22 L599.69 933.22 L601.19 933.22 L602.68 933.23 L604.18 933.23 L605.68 933.24 L607.18 933.24 L608.67 933.25 L610.17 933.25 L611.67 933.25 L613.16 933.26 L614.66 933.26 L616.16 933.27 L617.66 933.27 L619.15 933.27 L620.65 933.28 L622.15 933.28 L623.64 933.29 L625.14 933.29 L626.64 933.30 L628.13 933.30 L629.63 933.30 L631.13 933.31 L632.63 933.31 L634.12 933.32 L635.62 933.32 L637.12 933.32 L638.61 933.33 L640.11 933.33 L641.61 933.34 L643.10 933.34 L644.60 933.34 L646.10 933.35 L647.60 933.35 L649.09 933.36 L650.59 933.36 L652.09 933.36 L653.58 933.37 L655.08 933.37 L656.58 933.38 L658.08 933.38 L659.57 933.38 L661.07 933.39 L662.57 933.39 L664.06 933.39 L665.56 933.40 L667.06 933.40 L668.55 933.41 L670.05 933.41 L671.55 933.41 L673.05 933.42 L674.54 933.42 L676.04 933.42 L677.54 933.43 L679.03 933.43 L680.53 933.43 L682.03 933.44 L683.53 933.44 L685.02 933.44 L686.52 933.45 L688.02 933.45 L689.51 933.45 L691.01 933.45 L692.51 933.46 L694.00 933.46 L695.50 933.46 L697.00 933.47 L698.50 933.47 L699.99 933.47 L701.49 933.47 L702.99 933.48 L704.48 933.48 L705.98 933.48 L707.48 933.48 L708.97 933.49 L710.47 933.49 L711.97 933.49 L713.47 933.49 L714.96 933.49 L716.46 933.50 L717.96 933.50 L719.45 933.50 L720.95 933.50 L722.45 933.50 L723.95 933.50 L725.44 933.51 L726.94 933.51 L728.44 933.51 L729.93 933.51 L731.43 933.51 L732.93 933.51 L734.42 933.51 L735.92 933.52 L737.42 933.52 L738.92 933.52 L740.41 933.52 L741.91 933.52 L743.41 933.52 L744.90 933.52 L746.40 933.52 L747.90 933.52 L749.39 933.52 L750.89 933.52 L752.39 933.52 L753.89 933.52 L755.38 933.52 L756.88 933.52 L758.38 933.52 L759.87 933.52 L761.37 933.52 L762.87 933.52 L764.37 933.52 L765.86 933.52 L767.36 933.52 L768.86 933.51 L770.35 933.51 L771.85 933.51 L773.35 933.51 L774.84 933.51 L776.34 933.51 L777.84 933.51 L779.34 933.50 L780.83 933.50 L782.33 933.50 L783.83 933.50 L785.32 933.50 L786.82 933.49 L788.32 933.49 L789.81 933.49 L791.31 933.49 L792.81 933.48 L794.31 933.48 L795.80 933.48 L797.30 933.47" stroke="#000" stroke-width="2.5"/>
<path d="M197.30 593.11 L198.75 593.62 L200.16 594.17 L201.55 594.76 L202.90 595.40 L204.23 596.07 L205.53 596.77 L206.80 597.52 L208.05 598.29 L209.27 599.10 L210.47 599.94 L211.64 600.81 L212.79 601.71 L213.92 602.64 L215.03 603.59 L216.12 604.57 L217.19 605.57 L218.25 606.60 L219.29 607.64 L220.31 608.70 L221.32 609.78 L222.31 610.88 L223.30 612.00 L224.27 613.13 L225.23 614.27 L226.18 615.42 L227.12 616.58 L228.05 617.75 L228.98 618.93 L229.90 620.12 L230.82 621.31 L231.73 622.50 L232.64 623.70 L233.54 624.90 L234.45 626.10 L235.35 627.30 L236.25 628.51 L237.14 629.71 L238.04 630.92 L238.93 632.13 L239.82 633.34 L240.70 634.55 L241.59 635.77 L242.47 636.98 L243.35 638.20 L244.23 639.42 L245.11 640.63 L245.99 641.85 L246.86 643.08 L247.74 644.30 L248.61 645.52 L249.48 646.74 L250.35 647.97 L251.22 649.19 L252.09 650.42 L252.96 651.65 L253.83 652.87 L254.69 654.10 L255.56 655.33 L256.42 656.55 L257.29 657.78 L258.15 659.01 L259.02 660.24 L259.88 661.47 L260.75 662.70 L261.61 663.92 L262.48 665.15 L263.34 666.38 L264.21 667.61 L265.07 668.83 L265.94 670.06 L266.81 671.29 L267.67 672.51 L268.54 673.74 L269.41 674.96 L270.28 676.18 L271.15 677.40 L272.02 678.63 L272.90 679.85 L273.77 681.07 L274.65 682.28 L275.53 683.50 L276.41 684.72 L277.29 685.93 L278.17 687.14 L279.06 688.35 L279.94 689.56 L280.83 690.77 L281.72 691.98 L282.62 693.18 L283.51 694.39 L284.41 695.59 L285.31 696.79 L286.21 697.98 L287.12 699.18 L288.03 700.37 L288.94 701.56 L289.85 702.75 L290.77 703.94 L291.69 705.12 L292.61 706.30 L293.53 707.48 L294.46 708.66 L295.40 709.83 L296.33 711.00 L297.27 712.17 L298.21 713.34 L299.15 714.50 L300.10 715.66 L301.05 716.82 L302.00 717.98 L302.96 719.13 L303.92 720.28 L304.88 721.43 L305.85 722.57 L306.82 723.71 L307.79 724.85 L308.77 725.98 L309.75 727.12 L310.73 728.25 L311.72 729.37 L312.71 730.49 L313.70 731.61 L314.70 732.73 L315.70 733.84 L316.70 734.95 L317.71 736.06 L318.72 737.16 L319.73 738.26 L320.75 739.36 L321.77 740.45 L322.80 741.54 L323.83 742.63 L324.86 743.71 L325.90 744.79 L326.94 745.86 L327.98 746.93 L329.03 748.00 L330.08 749.06 L331.13 750.12 L332.19 751.18 L333.26 752.23 L334.32 753.28 L335.39 754.32 L336.47 755.36 L337.55 756.40 L338.63 757.43 L339.72 758.46 L340.81 759.48 L341.90 760.50 L343.00 761.52 L344.10 762.53 L345.21 763.54 L346.32 764.54 L347.44 765.54 L348.55 766.53 L349.68 767.52 L350.81 768.50 L351.94 769.48 L353.07 770.46 L354.22 771.43 L355.36 772.40 L356.51 773.36 L357.66 774.32 L358.82 775.27 L359.98 776.22 L361.14 777.16 L362.31 778.10 L363.49 779.04 L364.66 779.97 L365.84 780.89 L367.03 781.81 L368.21 782.73 L369.41 783.64 L370.60 784.55 L371.80 785.45 L373.00 786.35 L374.21 787.25 L375.42 788.14 L376.63 789.02 L377.85 789.90 L379.07 790.78 L380.29 791.65 L381.52 792.52 L382.75 793.38 L383.98 794.24 L385.22 795.09 L386.46 795.94 L387.70 796.79 L388.95 797.62 L390.20 798.46 L391.45 799.29 L392.71 800.12 L393.96 800.94 L395.23 801.76 L396.49 802.57 L397.76 803.38 L399.03 804.18 L400.30 804.98 L401.58 805.77 L402.85 806.56 L404.14 807.35 L405.42 808.13 L406.71 808.90 L408.00 809.68 L409.29 810.44 L410.58 811.20 L411.88 811.96 L413.18 812.72 L414.48 813.46 L415.79 814.21 L417.09 814.95 L418.40 815.68 L419.71 816.41 L421.03 817.14 L422.34 817.86 L423.66 818.58 L424.98 819.29 L426.31 820.00 L427.63 820.70 L428.96 821.40 L430.29 822.09 L431.62 822.78 L432.95 823.47 L434.28 824.15 L435.62 824.82 L436.96 825.49 L438.30 826.16 L439.64 826.82 L440.99 827.48 L442.33 828.13 L443.68 828.78 L445.03 829.43 L446.38 830.07 L447.74 830.70 L449.09 831.34 L450.45 831.96 L451.81 832.59 L453.17 833.21 L454.53 833.82 L455.90 834.43 L457.26 835.04 L458.63 835.64 L460.00 836.24 L461.37 836.83 L462.75 837.43 L464.12 838.01 L465.50 838.59 L466.87 839.17 L468.25 839.75 L469.63 840.32 L471.02 840.88 L472.40 841.45 L473.79 842.01 L475.18 842.56 L476.56 843.11 L477.95 843.66 L479.35 844.20 L480.74 844.74 L482.14 845.28 L483.53 845.81 L484.93 846.34 L486.33 846.87 L487.73 847.39 L489.13 847.91 L490.54 848.42 L491.94 848.93 L493.35 849.44 L494.75 849.95 L496.16 850.45 L497.57 850.94 L498.99 851.44 L500.40 851.93 L501.81 852.41 L503.23 852.90 L504.65 853.38 L506.06 853.85 L507.48 854.33 L508.90 854.80 L510.33 855.27 L511.75 855.73 L513.17 856.19 L514.60 856.65 L516.02 857.10 L517.45 857.55 L518.88 858.00 L520.31 858.45 L521.74 858.89 L523.17 859.33 L524.61 859.76 L526.04 860.20 L527.47 860.63 L528.91 861.05 L530.35 861.48 L531.79 861.90 L533.23 862.32 L534.67 862.73 L536.11 863.15 L537.55 863.56 L538.99 863.96 L540.43 864.37 L541.88 864.77 L543.32 865.17 L544.77 865.56 L546.22 865.96 L547.67 866.35 L549.12 866.74 L550.57 867.12 L552.02 867.51 L553.47 867.89 L554.92 868.26 L556.37 868.64 L557.83 869.01 L559.28 869.38 L560.73 869.75 L562.19 870.12 L563.65 870.48 L565.10 870.84 L566.56 871.20 L568.02 871.56 L569.48 871.91 L570.94 872.27 L572.40 872.62 L573.86 872.96 L575.32 873.31 L576.78 873.65 L578.24 873.99 L579.71 874.33 L581.17 874.67 L582.64 875.00 L584.10 875.34 L585.56 875.67 L587.03 876.00 L588.50 876.32 L589.96 876.65 L591.43 876.97 L592.90 877.29 L594.36 877.61 L595.83 877.93 L597.30 878.24 L598.77 878.56 L600.24 878.87 L601.71 879.18 L603.18 879.49 L604.65 879.79 L606.12 880.10 L607.59 880.40 L609.06 880.70 L610.53 881.00 L612.00 881.30 L613.47 881.60 L614.94 881.89 L616.41 882.19 L617.88 882.48 L619.36 882.77 L620.83 883.06 L622.30 883.35 L623.77 883.63 L625.25 883.92 L626.72 884.20 L628.19 884.49 L629.66 884.77 L631.14 885.05 L632.61 885.32 L634.08 885.60 L635.56 885.88 L637.03 886.15 L638.50 886.42 L639.98 886.69 L641.45 886.96 L642.92 887.23 L644.40 887.50 L645.87 887.76 L647.35 888.03 L648.82 888.29 L650.29 888.55 L651.77 888.81 L653.24 889.07 L654.72 889.33 L656.19 889.58 L657.67 889.84 L659.14 890.09 L660.62 890.34 L662.10 890.59 L663.57 890.84 L665.05 891.09 L666.52 891.33 L668.00 891.58 L669.48 891.82 L670.95 892.06 L672.43 892.30 L673.91 892.54 L675.38 892.78 L676.86 893.01 L678.34 893.25 L679.82 893.48 L681.29 893.71 L682.77 893.95 L684.25 894.17 L685.73 894.40 L687.21 894.63 L688.69 894.85 L690.16 895.08 L691.64 895.30 L693.12 895.52 L694.60 895.74 L696.08 895.96 L697.56 896.17 L699.04 896.39 L700.52 896.60 L702.00 896.81 L703.49 897.02 L704.97 897.23 L706.45 897.44 L707.93 897.65 L709.41 897.85 L710.89 898.06 L712.38 898.26 L713.86 898.46 L715.34 898.66 L716.82 898.86 L718.31 899.06 L719.79 899.25 L721.28 899.44 L722.76 899.64 L724.24 899.83 L725.73 900.02 L727.21 900.21 L728.70 900.39 L730.18 900.58 L731.67 900.76 L733.16 900.95 L734.64 901.13 L736.13 901.31 L737.61 901.49 L739.10 901.66 L740.59 901.84 L742.08 902.01 L743.56 902.18 L745.05 902.36 L746.54 902.53 L748.03 902.69 L749.52 902.86 L751.01 903.03 L752.50 903.19 L753.99 903.36 L755.48 903.52 L756.97 903.68 L758.46 903.84 L759.95 903.99 L761.44 904.15 L762.93 904.30 L764.43 904.46 L765.92 904.61 L767.41 904.76 L768.91 904.91 L770.40 905.05 L771.89 905.20 L773.39 905.34 L774.88 905.49 L776.38 905.63 L777.87 905.77 L779.37 905.91 L780.86 906.05 L782.36 906.18 L783.86 906.32 L785.35 906.45 L786.85 906.58 L788.35 906.71 L789.85 906.84 L791.34 906.97 L792.84 907.09 L794.34 907.22 L795.84 907.34 L797.34 907.46" stroke="#b40000" stroke-width="2.5" stroke-dasharray="15.7 15.76"/>
<path d="M197.00 931.35 L198.50 931.39 L199.99 931.43 L201.49 931.47 L202.99 931.51 L204.48 931.55 L205.98 931.59 L207.48 931.62 L208.97 931.66 L210.47 931.70 L211.97 931.74 L213.46 931.77 L214.96 931.81 L216.46 931.84 L217.95 931.88 L219.45 931.91 L220.95 931.94 L222.44 931.98 L223.94 932.01 L225.44 932.04 L226.93 932.08 L228.43 932.11 L229.93 932.14 L231.42 932.17 L232.92 932.20 L234.42 932.23 L235.91 932.26 L237.41 932.29 L238.91 932.32 L240.40 932.35 L241.90 932.38 L243.40 932.41 L244.89 932.43 L246.39 932.46 L247.89 932.49 L249.38 932.52 L250.88 932.54 L252.38 932.57 L253.87 932.59 L255.37 932.62 L256.87 932.65 L258.37 932.67 L259.86 932.70 L261.36 932.72 L262.86 932.74 L264.35 932.77 L265.85 932.79 L267.35 932.82 L268.84 932.84 L270.34 932.86 L271.84 932.88 L273.33 932.91 L274.83 932.93 L276.33 932.95 L277.82 932.97 L279.32 932.99 L280.82 933.01 L282.32 933.03 L283.81 933.05 L285.31 933.07 L286.81 933.09 L288.30 933.11 L289.80 933.13 L291.30 933.15 L292.79 933.17 L294.29 933.19 L295.79 933.21 L297.28 933.23 L298.78 933.25 L300.28 933.26 L301.78 933.28 L303.27 933.30 L304.77 933.32 L306.27 933.33 L307.76 933.35 L309.26 933.37 L310.76 933.38 L312.25 933.40 L313.75 933.42 L315.25 933.43 L316.75 933.45 L318.24 933.46 L319.74 933.48 L321.24 933.49 L322.73 933.51 L324.23 933.52 L325.73 933.54 L327.22 933.55 L328.72 933.57 L330.22 933.58 L331.72 933.59 L333.21 933.61 L334.71 933.62 L336.21 933.64 L337.70 933.65 L339.20 933.66 L340.70 933.68 L342.19 933.69 L343.69 933.70 L345.19 933.71 L346.69 933.73 L348.18 933.74 L349.68 933.75 L351.18 933.76 L352.67 933.77 L354.17 933.79 L355.67 933.80 L357.16 933.81 L358.66 933.82 L360.16 933.83 L361.66 933.84 L363.15 933.85 L364.65 933.86 L366.15 933.87 L367.64 933.88 L369.14 933.89 L370.64 933.90 L372.13 933.91 L373.63 933.92 L375.13 933.93 L376.63 933.94 L378.12 933.95 L379.62 933.96 L381.12 933.97 L382.61 933.98 L384.11 933.99 L385.61 934.00 L387.11 934.01 L388.60 934.02 L390.10 934.03 L391.60 934.04 L393.09 934.04 L394.59 934.05 L396.09 934.06 L397.58 934.07 L399.08 934.08 L400.58 934.09 L402.08 934.09 L403.57 934.10 L405.07 934.11 L406.57 934.12 L408.06 934.12 L409.56 934.13 L411.06 934.14 L412.55 934.15 L414.05 934.15 L415.55 934.16 L417.05 934.17 L418.54 934.17 L420.04 934.18 L421.54 934.19 L423.03 934.20 L424.53 934.20 L426.03 934.21 L427.53 934.22 L429.02 934.22 L430.52 934.23 L432.02 934.23 L433.51 934.24 L435.01 934.25 L436.51 934.25 L438.00 934.26 L439.50 934.26 L441.00 934.27 L442.50 934.28 L443.99 934.28 L445.49 934.29 L446.99 934.29 L448.48 934.30 L449.98 934.30 L451.48 934.31 L452.98 934.31 L454.47 934.32 L455.97 934.32 L457.47 934.33 L458.96 934.33 L460.46 934.34 L461.96 934.34 L463.45 934.35 L464.95 934.35 L466.45 934.36 L467.95 934.36 L469.44 934.37 L470.94 934.37 L472.44 934.38 L473.93 934.38 L475.43 934.39 L476.93 934.39 L478.43 934.40 L479.92 934.40 L481.42 934.40 L482.92 934.41 L484.41 934.41 L485.91 934.42 L487.41 934.42 L488.90 934.42 L490.40 934.43 L491.90 934.43 L493.40 934.44 L494.89 934.44 L496.39 934.44 L497.89 934.45 L499.38 934.45 L500.88 934.45 L502.38 934.46 L503.88 934.46 L505.37 934.46 L506.87 934.47 L508.37 934.47 L509.86 934.47 L511.36 934.48 L512.86 934.48 L514.35 934.48 L515.85 934.49 L517.35 934.49 L518.85 934.49 L520.34 934.50 L521.84 934.50 L523.34 934.50 L524.83 934.51 L526.33 934.51 L527.83 934.51 L529.33 934.51 L530.82 934.52 L532.32 934.52 L533.82 934.52 L535.31 934.53 L536.81 934.53 L538.31 934.53 L539.80 934.53 L541.30 934.54 L542.80 934.54 L544.30 934.54 L545.79 934.54 L547.29 934.55 L548.79 934.55 L550.28 934.55 L551.78 934.55 L553.28 934.56 L554.78 934.56 L556.27 934.56 L557.77 934.56 L559.27 934.57 L560.76 934.57 L562.26 934.57 L563.76 934.57 L565.25 934.57 L566.75 934.58 L568.25 934.58 L569.75 934.58 L571.24 934.58 L572.74 934.58 L574.24 934.59 L575.73 934.59 L577.23 934.59 L578.73 934.59 L580.23 934.59 L581.72 934.60 L583.22 934.60 L584.72 934.60 L586.21 934.60 L587.71 934.60 L589.21 934.61 L590.71 934.61 L592.20 934.61 L593.70 934.61 L595.20 934.61 L596.69 934.61 L598.19 934.62 L599.69 934.62 L601.18 934.62 L602.68 934.62 L604.18 934.62 L605.68 934.62 L607.17 934.63 L608.67 934.63 L610.17 934.63 L611.66 934.63 L613.16 934.63 L614.66 934.63 L616.16 934.63 L617.65 934.64 L619.15 934.64 L620.65 934.64 L622.14 934.64 L623.64 934.64 L625.14 934.64 L626.63 934.64 L628.13 934.65 L629.63 934.65 L631.13 934.65 L632.62 934.65 L634.12 934.65 L635.62 934.65 L637.11 934.65 L638.61 934.65 L640.11 934.66 L641.61 934.66 L643.10 934.66 L644.60 934.66 L646.10 934.66 L647.59 934.66 L649.09 934.66 L650.59 934.66 L652.08 934.66 L653.58 934.67 L655.08 934.67 L656.58 934.67 L658.07 934.67 L659.57 934.67 L661.07 934.67 L662.56 934.67 L664.06 934.67 L665.56 934.67 L667.06 934.67 L668.55 934.68 L670.05 934.68 L671.55 934.68 L673.04 934.68 L674.54 934.68 L676.04 934.68 L677.53 934.68 L679.03 934.68 L680.53 934.68 L682.03 934.68 L683.52 934.68 L685.02 934.68 L686.52 934.69 L688.01 934.69 L689.51 934.69 L691.01 934.69 L692.51 934.69 L694.00 934.69 L695.50 934.69 L697.00 934.69 L698.49 934.69 L699.99 934.69 L701.49 934.69 L702.98 934.69 L704.48 934.69 L705.98 934.70 L707.48 934.70 L708.97 934.70 L710.47 934.70 L711.97 934.70 L713.46 934.70 L714.96 934.70 L716.46 934.70 L717.96 934.70 L719.45 934.70 L720.95 934.70 L722.45 934.70 L723.94 934.70 L725.44 934.70 L726.94 934.70 L728.44 934.71 L729.93 934.71 L731.43 934.71 L732.93 934.71 L734.42 934.71 L735.92 934.71 L737.42 934.71 L738.91 934.71 L740.41 934.71 L741.91 934.71 L743.41 934.71 L744.90 934.71 L746.40 934.71 L747.90 934.71 L749.39 934.71 L750.89 934.71 L752.39 934.71 L753.89 934.71 L755.38 934.71 L756.88 934.71 L758.38 934.72 L759.87 934.72 L761.37 934.72 L762.87 934.72 L764.36 934.72 L765.86 934.72 L767.36 934.72 L768.86 934.72 L770.35 934.72 L771.85 934.72 L773.35 934.72 L774.84 934.72 L776.34 934.72 L777.84 934.72 L779.34 934.72 L780.83 934.72 L782.33 934.72 L783.83 934.72 L785.32 934.72 L786.82 934.72 L788.32 934.72 L789.81 934.72 L791.31 934.72 L792.81 934.72 L794.31 934.72 L795.80 934.73 L797.30 934.73" stroke="#0000ff" stroke-width="2.5" stroke-dasharray="16 15.46"/>
<path d="M197.00 931.35 L198.50 931.39 L199.99 931.43 L201.49 931.47 L202.99 931.51 L204.48 931.55 L205.98 931.59 L207.48 931.62 L208.97 931.66 L210.47 931.70 L211.97 931.74 L213.46 931.77 L214.96 931.81 L216.46 931.84 L217.95 931.88 L219.45 931.91 L220.95 931.94 L222.44 931.98 L223.94 932.01 L225.44 932.04 L226.93 932.08 L228.43 932.11 L229.93 932.14 L231.42 932.17 L232.92 932.20 L234.42 932.23 L235.91 932.26 L237.41 932.29 L238.91 932.32 L240.40 932.35 L241.90 932.38 L243.40 932.41 L244.89 932.43 L246.39 932.46 L247.89 932.49 L249.38 932.52 L250.88 932.54 L252.38 932.57 L253.87 932.59 L255.37 932.62 L256.87 932.65 L258.37 932.67 L259.86 932.70 L261.36 932.72 L262.86 932.74 L264.35 932.77 L265.85 932.79 L267.35 932.82 L268.84 932.84 L270.34 932.86 L271.84 932.88 L273.33 932.91 L274.83 932.93 L276.33 932.95 L277.82 932.97 L279.32 932.99 L280.82 933.01 L282.32 933.03 L283.81 933.05 L285.31 933.07 L286.81 933.09 L288.30 933.11 L289.80 933.13 L291.30 933.15 L292.79 933.17 L294.29 933.19 L295.79 933.21 L297.28 933.23 L298.78 933.25 L300.28 933.26 L301.78 933.28 L303.27 933.30 L304.77 933.32 L306.27 933.33 L307.76 933.35 L309.26 933.37 L310.76 933.38 L312.25 933.40 L313.75 933.42 L315.25 933.43 L316.75 933.45 L318.24 933.46 L319.74 933.48 L321.24 933.49 L322.73 933.51 L324.23 933.52 L325.73 933.54 L327.22 933.55 L328.72 933.57 L330.22 933.58 L331.72 933.59 L333.21 933.61 L334.71 933.62 L336.21 933.64 L337.70 933.65 L339.20 933.66 L340.70 933.68 L342.19 933.69 L343.69 933.70 L345.19 933.71 L346.69 933.73 L348.18 933.74 L349.68 933.75 L351.18 933.76 L352.67 933.77 L354.17 933.79 L355.67 933.80 L357.16 933.81 L358.66 933.82 L360.16 933.83 L361.66 933.84 L363.15 933.85 L364.65 933.86 L366.15 933.87 L367.64 933.88 L369.14 933.89 L370.64 933.90 L372.13 933.91 L373.63 933.92 L375.13 933.93 L376.63 933.94 L378.12 933.95 L379.62 933.96 L381.12 933.97 L382.61 933.98 L384.11 933.99 L385.61 934.00 L387.11 934.01 L388.60 934.02 L390.10 934.03 L391.60 934.04 L393.09 934.04 L394.59 934.05 L396.09 934.06 L397.58 934.07 L399.08 934.08 L400.58 934.09 L402.08 934.09 L403.57 934.10 L405.07 934.11 L406.57 934.12 L408.06 934.12 L409.56 934.13 L411.06 934.14 L412.55 934.15 L414.05 934.15 L415.55 934.16 L417.05 934.17 L418.54 934.17 L420.04 934.18 L421.54 934.19 L423.03 934.20 L424.53 934.20 L426.03 934.21 L427.53 934.22 L429.02 934.22 L430.52 934.23 L432.02 934.23 L433.51 934.24 L435.01 934.25 L436.51 934.25 L438.00 934.26 L439.50 934.26 L441.00 934.27 L442.50 934.28 L443.99 934.28 L445.49 934.29 L446.99 934.29 L448.48 934.30 L449.98 934.30 L451.48 934.31 L452.98 934.31 L454.47 934.32 L455.97 934.32 L457.47 934.33 L458.96 934.33 L460.46 934.34 L461.96 934.34 L463.45 934.35 L464.95 934.35 L466.45 934.36 L467.95 934.36 L469.44 934.37 L470.94 934.37 L472.44 934.38 L473.93 934.38 L475.43 934.39 L476.93 934.39 L478.43 934.40 L479.92 934.40 L481.42 934.40 L482.92 934.41 L484.41 934.41 L485.91 934.42 L487.41 934.42 L488.90 934.42 L490.40 934.43 L491.90 934.43 L493.40 934.44 L494.89 934.44 L496.39 934.44 L497.89 934.45 L499.38 934.45 L500.88 934.45 L502.38 934.46 L503.88 934.46 L505.37 934.46 L506.87 934.47 L508.37 934.47 L509.86 934.47 L511.36 934.48 L512.86 934.48 L514.35 934.48 L515.85 934.49 L517.35 934.49 L518.85 934.49 L520.34 934.50 L521.84 934.50 L523.34 934.50 L524.83 934.51 L526.33 934.51 L527.83 934.51 L529.33 934.51 L530.82 934.52 L532.32 934.52 L533.82 934.52 L535.31 934.53 L536.81 934.53 L538.31 934.53 L539.80 934.53 L541.30 934.54 L542.80 934.54 L544.30 934.54 L545.79 934.54 L547.29 934.55 L548.79 934.55 L550.28 934.55 L551.78 934.55 L553.28 934.56 L554.78 934.56 L556.27 934.56 L557.77 934.56 L559.27 934.57 L560.76 934.57 L562.26 934.57 L563.76 934.57 L565.25 934.57 L566.75 934.58 L568.25 934.58 L569.75 934.58 L571.24 934.58 L572.74 934.58 L574.24 934.59 L575.73 934.59 L577.23 934.59 L578.73 934.59 L580.23 934.59 L581.72 934.60 L583.22 934.60 L584.72 934.60 L586.21 934.60 L587.71 934.60 L589.21 934.61 L590.71 934.61 L592.20 934.61 L593.70 934.61 L595.20 934.61 L596.69 934.61 L598.19 934.62 L599.69 934.62 L601.18 934.62 L602.68 934.62 L604.18 934.62 L605.68 934.62 L607.17 934.63 L608.67 934.63 L610.17 934.63 L611.66 934.63 L613.16 934.63 L614.66 934.63 L616.16 934.63 L617.65 934.64 L619.15 934.64 L620.65 934.64 L622.14 934.64 L623.64 934.64 L625.14 934.64 L626.63 934.64 L628.13 934.65 L629.63 934.65 L631.13 934.65 L632.62 934.65 L634.12 934.65 L635.62 934.65 L637.11 934.65 L638.61 934.65 L640.11 934.66 L641.61 934.66 L643.10 934.66 L644.60 934.66 L646.10 934.66 L647.59 934.66 L649.09 934.66 L650.59 934.66 L652.08 934.66 L653.58 934.67 L655.08 934.67 L656.58 934.67 L658.07 934.67 L659.57 934.67 L661.07 934.67 L662.56 934.67 L664.06 934.67 L665.56 934.67 L667.06 934.67 L668.55 934.68 L670.05 934.68 L671.55 934.68 L673.04 934.68 L674.54 934.68 L676.04 934.68 L677.53 934.68 L679.03 934.68 L680.53 934.68 L682.03 934.68 L683.52 934.68 L685.02 934.68 L686.52 934.69 L688.01 934.69 L689.51 934.69 L691.01 934.69 L692.51 934.69 L694.00 934.69 L695.50 934.69 L697.00 934.69 L698.49 934.69 L699.99 934.69 L701.49 934.69 L702.98 934.69 L704.48 934.69 L705.98 934.70 L707.48 934.70 L708.97 934.70 L710.47 934.70 L711.97 934.70 L713.46 934.70 L714.96 934.70 L716.46 934.70 L717.96 934.70 L719.45 934.70 L720.95 934.70 L722.45 934.70 L723.94 934.70 L725.44 934.70 L726.94 934.70 L728.44 934.71 L729.93 934.71 L731.43 934.71 L732.93 934.71 L734.42 934.71 L735.92 934.71 L737.42 934.71 L738.91 934.71 L740.41 934.71 L741.91 934.71 L743.41 934.71 L744.90 934.71 L746.40 934.71 L747.90 934.71 L749.39 934.71 L750.89 934.71 L752.39 934.71 L753.89 934.71 L755.38 934.71 L756.88 934.71 L758.38 934.72 L759.87 934.72 L761.37 934.72 L762.87 934.72 L764.36 934.72 L765.86 934.72 L767.36 934.72 L768.86 934.72 L770.35 934.72 L771.85 934.72 L773.35 934.72 L774.84 934.72 L776.34 934.72 L777.84 934.72 L779.34 934.72 L780.83 934.72 L782.33 934.72 L783.83 934.72 L785.32 934.72 L786.82 934.72 L788.32 934.72 L789.81 934.72 L791.31 934.72 L792.81 934.72 L794.31 934.72 L795.80 934.73 L797.30 934.73" stroke="#0000ff" stroke-width="5.0" stroke-linecap="round" stroke-dasharray="0.01 31.45" stroke-dashoffset="-23.6"/>
</g>
<text transform="translate(140.83 53.05) scale(1 1.05)" x="0.00 21.13" font-size="38.00" fill="#000" >25</text>
<text transform="translate(140.83 107.73) scale(1 1.05)" x="0.00 21.13" font-size="38.00" fill="#000" >20</text>
<path d="M378 0H238V-505H69V-597C160 -599 255 -627 283 -713H378Z" transform="translate(140.83 162.60) scale(0.0380)" fill="#000" />
<text transform="translate(140.83 162.60) scale(1 1.05)" x="21.13" font-size="38.00" fill="#000" >5</text>
<path d="M378 0H238V-505H69V-597C160 -599 255 -627 283 -713H378Z" transform="translate(140.83 217.48) scale(0.0380)" fill="#000" />
<text transform="translate(140.83 217.48) scale(1 1.05)" x="21.13" font-size="38.00" fill="#000" >0</text>
<text transform="translate(161.97 271.95) scale(1 1.05)" x="0.00" font-size="38.00" fill="#000" >5</text>
<text transform="translate(161.97 326.42) scale(1 1.05)" x="0.00" font-size="38.00" fill="#000" >0</text>
<text transform="translate(149.31 380.90) scale(1 1.05)" x="0.00 12.65" font-size="38.00" fill="#000" >-5</text>
<path d="M378 0H238V-505H69V-597C160 -599 255 -627 283 -713H378Z" transform="translate(140.83 435.37) scale(0.0380)" fill="#000" />
<text transform="translate(128.18 435.37) scale(1 1.05)" x="0.00 33.79" font-size="38.00" fill="#000" >-0</text>
<path d="M378 0H238V-505H69V-597C160 -599 255 -627 283 -713H378Z" transform="translate(140.83 489.55) scale(0.0380)" fill="#000" />
<text transform="translate(128.18 489.55) scale(1 1.05)" x="0.00 33.79" font-size="38.00" fill="#000" >-5</text>
<path d="M378 0H238V-505H69V-597C160 -599 255 -627 283 -713H378Z" transform="translate(140.83 568.00) scale(0.0380)" fill="#000" />
<text transform="translate(140.83 568.00) scale(1 1.05)" x="21.13" font-size="38.00" fill="#000" >4</text>
<path d="M378 0H238V-505H69V-597C160 -599 255 -627 283 -713H378Z" transform="translate(140.83 622.44) scale(0.0380)" fill="#000" />
<text transform="translate(140.83 622.44) scale(1 1.05)" x="21.13" font-size="38.00" fill="#000" >2</text>
<path d="M378 0H238V-505H69V-597C160 -599 255 -627 283 -713H378Z" transform="translate(140.83 677.17) scale(0.0380)" fill="#000" />
<text transform="translate(140.83 677.17) scale(1 1.05)" x="21.13" font-size="38.00" fill="#000" >0</text>
<text transform="translate(161.97 731.81) scale(1 1.05)" x="0.00" font-size="38.00" fill="#000" >8</text>
<text transform="translate(161.97 786.35) scale(1 1.05)" x="0.00" font-size="38.00" fill="#000" >6</text>
<text transform="translate(161.97 840.49) scale(1 1.05)" x="0.00" font-size="38.00" fill="#000" >4</text>
<text transform="translate(161.97 894.82) scale(1 1.05)" x="0.00" font-size="38.00" fill="#000" >2</text>
<text transform="translate(161.97 949.36) scale(1 1.05)" x="0.00" font-size="38.00" fill="#000" >0</text>
<text transform="translate(149.31 1003.90) scale(1 1.05)" x="0.00 12.65" font-size="38.00" fill="#000" >-2</text>
<text transform="translate(186.43 1031.60) scale(1 1.05)" x="0.00" font-size="38.00" fill="#000" >0</text>
<text transform="translate(386.53 1031.60) scale(1 1.05)" x="0.00" font-size="38.00" fill="#000" >2</text>
<text transform="translate(586.63 1031.60) scale(1 1.05)" x="0.00" font-size="38.00" fill="#000" >4</text>
<text transform="translate(786.73 1031.60) scale(1 1.05)" x="0.00" font-size="38.00" fill="#000" >6</text>
<text transform="translate(497.00 137.80) scale(1 1.05)" x="0.00" font-size="38.00" fill="#000" >P</text>
<path d="M378 0H238V-505H69V-597C160 -599 255 -627 283 -713H378Z" transform="translate(522.35 150.20) scale(0.0260)" fill="#000" />
<text transform="translate(522.35 150.20) scale(1 1.05)" x="14.46" font-size="26.00" fill="#000" >3</text>
<path d="M378 0H238V-505H69V-597C160 -599 255 -627 283 -713H378Z" transform="translate(563.92 137.80) scale(0.0380)" fill="#000" />
<text transform="translate(551.27 137.80) scale(1 1.05)" x="33.79 54.92 76.06" font-size="38.00" fill="#000" >385</text>
<text transform="translate(551.27 137.80) scale(1 1)" x="0.00 97.19" font-size="36.67" fill="#000" >()</text>
<text transform="translate(347.30 208.90) scale(1 1.05)" x="0.00" font-size="38.00" fill="#0000ff" >P</text>
<path d="M378 0H238V-505H69V-597C160 -599 255 -627 283 -713H378Z" transform="translate(372.65 221.30) scale(0.0260)" fill="#0000ff" />
<text transform="translate(372.65 221.30) scale(1 1.05)" x="14.46" font-size="26.00" fill="#0000ff" >3</text>
<text transform="translate(401.57 208.90) scale(1 1.05)" x="12.65 33.79 54.92 76.06" font-size="38.00" fill="#0000ff" >2080</text>
<text transform="translate(401.57 208.90) scale(1 1)" x="0.00 97.19" font-size="36.67" fill="#0000ff" >()</text>
<text transform="translate(347.40 334.10) scale(1 1.05)" x="0.00" font-size="38.00" fill="#b40000" >P</text>
<path d="M378 0H238V-505H69V-597C160 -599 255 -627 283 -713H378Z" transform="translate(372.75 346.50) scale(0.0260)" fill="#b40000" />
<text transform="translate(372.75 346.50) scale(1 1.05)" x="14.46" font-size="26.00" fill="#b40000" >3</text>
<path d="M378 0H238V-505H69V-597C160 -599 255 -627 283 -713H378Z" transform="translate(414.32 334.10) scale(0.0380)" fill="#b40000" />
<text transform="translate(401.67 334.10) scale(1 1.05)" x="33.79 54.92 76.06" font-size="38.00" fill="#b40000" >840</text>
<text transform="translate(401.67 334.10) scale(1 1)" x="0.00 97.19" font-size="36.67" fill="#b40000" >()</text>
<text transform="translate(296.90 704.40) scale(1 1.05)" x="0.00" font-size="38.00" fill="#b40000" >P</text>
<path d="M378 0H238V-505H69V-597C160 -599 255 -627 283 -713H378Z" transform="translate(322.25 716.80) scale(0.0260)" fill="#b40000" />
<text transform="translate(322.25 716.80) scale(1 1.05)" x="14.46" font-size="26.00" fill="#b40000" >3</text>
<path d="M378 0H238V-505H69V-597C160 -599 255 -627 283 -713H378Z" transform="translate(363.82 704.40) scale(0.0380)" fill="#b40000" />
<text transform="translate(351.17 704.40) scale(1 1.05)" x="33.79 54.92 76.06" font-size="38.00" fill="#b40000" >840</text>
<text transform="translate(351.17 704.40) scale(1 1)" x="0.00 97.19" font-size="36.67" fill="#b40000" >()</text>
<text transform="translate(247.20 917.20) scale(1 1.05)" x="0.00" font-size="38.00" fill="#0000ff" >P</text>
<path d="M378 0H238V-505H69V-597C160 -599 255 -627 283 -713H378Z" transform="translate(272.55 929.60) scale(0.0260)" fill="#0000ff" />
<text transform="translate(272.55 929.60) scale(1 1.05)" x="14.46" font-size="26.00" fill="#0000ff" >3</text>
<text transform="translate(301.47 917.20) scale(1 1.05)" x="12.65 33.79 54.92 76.06" font-size="38.00" fill="#0000ff" >2080</text>
<text transform="translate(301.47 917.20) scale(1 1)" x="0.00 97.19" font-size="36.67" fill="#0000ff" >()</text>
<text transform="translate(227.10 968.80) scale(1 1.05)" x="0.00" font-size="38.00" fill="#000" >P</text>
<path d="M378 0H238V-505H69V-597C160 -599 255 -627 283 -713H378Z" transform="translate(252.45 981.20) scale(0.0260)" fill="#000" />
<text transform="translate(252.45 981.20) scale(1 1.05)" x="14.46" font-size="26.00" fill="#000" >3</text>
<path d="M378 0H238V-505H69V-597C160 -599 255 -627 283 -713H378Z" transform="translate(294.02 968.80) scale(0.0380)" fill="#000" />
<text transform="translate(281.37 968.80) scale(1 1.05)" x="33.79 54.92 76.06" font-size="38.00" fill="#000" >385</text>
<text transform="translate(281.37 968.80) scale(1 1)" x="0.00 97.19" font-size="36.67" fill="#000" >()</text>
<path d="M491.20 1076.30 L504.00 1088.90" stroke="#000" stroke-width="4.60" fill="none"/>
<text transform="translate(468.60 1088.00) scale(1 1.05)" x="0.00" font-size="50.00" fill="#000" >O</text>
<text transform="translate(506.00 1063.60) scale(1 1.05)" x="0.00" font-size="34.00" fill="#000" >2</text>
<text transform="translate(647.00 1087.60) scale(1 1)" x="0.00" font-size="48.25" fill="#000" >(</text>
<text transform="translate(663.65 1087.60) scale(1 1.05)" x="0.00" font-size="50.00" fill="#000" >G</text>
<text transform="translate(701.35 1087.60) scale(1 1.05)" x="0.00" font-size="50.00" fill="#000" >e</text>
<text transform="translate(729.55 1087.60) scale(1 1.05)" x="0.00" font-size="50.00" fill="#000" >V</text>
<text transform="translate(762.50 1063.60) scale(1 1.05)" x="0.00" font-size="34.00" fill="#000" >2</text>
<text transform="translate(783.50 1087.60) scale(1 1)" x="0.00" font-size="48.25" fill="#000" >)</text>
<g transform="translate(67.3 419.6) rotate(-90)">
<text transform="translate(-1.60 0.00) scale(1 1.05)" x="0.00" font-size="50.00" fill="#000" >A</text>
<text transform="translate(34.00 17.30) scale(1 1.05)" x="0.00 18.91 28.36" font-size="34.00" fill="#000" >3/2</text>
<text transform="translate(106.70 0.00) scale(1 1)" x="0.00" font-size="48.25" fill="#000" >(</text>
<path d="M378 0H238V-505H69V-597C160 -599 255 -627 283 -713H378Z" transform="translate(124.35 0.00) scale(0.0500)" fill="#000" />
<text transform="translate(150.80 0.00) scale(1 1.05)" x="0.00" font-size="50.00" fill="#000" >0</text>
<text transform="translate(178.30 -24.60) scale(1 1.05)" x="0.00 11.32" font-size="34.00" fill="#000" >-3</text>
<text transform="translate(207.50 0.00) scale(1 1.05)" x="0.00" font-size="50.00" fill="#000" >G</text>
<text transform="translate(245.20 0.00) scale(1 1.05)" x="0.00" font-size="50.00" fill="#000" >e</text>
<text transform="translate(273.40 0.00) scale(1 1.05)" x="0.00" font-size="50.00" fill="#000" >V</text>
<path d="M378 0H238V-505H69V-597C160 -599 255 -627 283 -713H378Z" transform="translate(317.12 -24.60) scale(0.0340)" fill="#000" />
<text transform="translate(305.80 -24.60) scale(1 1.05)" x="0.00" font-size="34.00" fill="#000" >-</text>
<text transform="translate(335.80 -24.60) scale(1 1.05)" x="0.00" font-size="34.00" fill="#000" >/</text>
<text transform="translate(344.90 -24.60) scale(1 1.05)" x="0.00" font-size="34.00" fill="#000" >2</text>
<text transform="translate(365.40 0.00) scale(1 1)" x="0.00" font-size="48.25" fill="#000" >)</text>
</g>
<g transform="translate(67.3 933.9) rotate(-90)">
<text transform="translate(-1.60 0.00) scale(1 1.05)" x="0.00" font-size="50.00" fill="#000" >C</text>
<path d="M378 0H238V-505H69V-597C160 -599 255 -627 283 -713H378Z" transform="translate(34.00 17.30) scale(0.0340)" fill="#000" />
<text transform="translate(34.00 17.30) scale(1 1.05)" x="18.91 28.36" font-size="34.00" fill="#000" >/2</text>
<text transform="translate(106.70 0.00) scale(1 1)" x="0.00" font-size="48.25" fill="#000" >(</text>
<path d="M378 0H238V-505H69V-597C160 -599 255 -627 283 -713H378Z" transform="translate(124.35 0.00) scale(0.0500)" fill="#000" />
<text transform="translate(150.80 0.00) scale(1 1.05)" x="0.00" font-size="50.00" fill="#000" >0</text>
<text transform="translate(178.30 -24.60) scale(1 1.05)" x="0.00 11.32" font-size="34.00" fill="#000" >-3</text>
<text transform="translate(207.50 0.00) scale(1 1.05)" x="0.00" font-size="50.00" fill="#000" >G</text>
<text transform="translate(245.20 0.00) scale(1 1.05)" x="0.00" font-size="50.00" fill="#000" >e</text>
<text transform="translate(273.40 0.00) scale(1 1.05)" x="0.00" font-size="50.00" fill="#000" >V</text>
<path d="M378 0H238V-505H69V-597C160 -599 255 -627 283 -713H378Z" transform="translate(317.12 -24.60) scale(0.0340)" fill="#000" />
<text transform="translate(305.80 -24.60) scale(1 1.05)" x="0.00" font-size="34.00" fill="#000" >-</text>
<text transform="translate(335.80 -24.60) scale(1 1.05)" x="0.00" font-size="34.00" fill="#000" >/</text>
<text transform="translate(344.90 -24.60) scale(1 1.05)" x="0.00" font-size="34.00" fill="#000" >2</text>
<text transform="translate(365.40 0.00) scale(1 1)" x="0.00" font-size="48.25" fill="#000" >)</text>
</g>
</svg></body></html>
